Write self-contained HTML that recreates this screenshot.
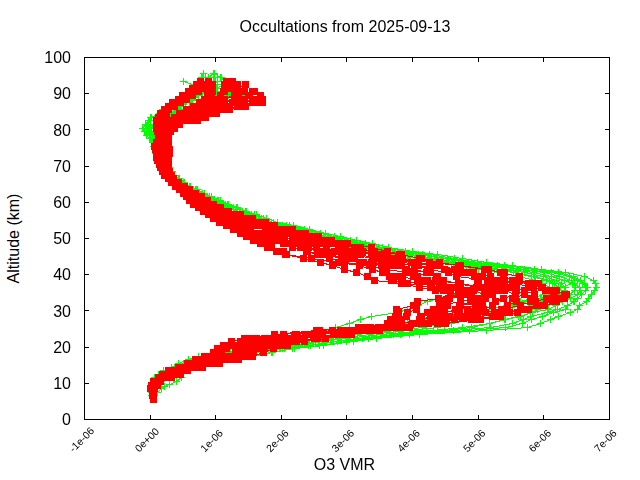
<!DOCTYPE html>
<html><head><meta charset="utf-8"><title>Occultations from 2025-09-13</title>
<style>html,body{margin:0;padding:0;background:#fff;width:640px;height:480px;overflow:hidden}</style></head>
<body>
<svg width="640" height="480" viewBox="0 0 640 480" style="position:absolute;left:0;top:0">
<rect width="640" height="480" fill="#fff"/>
<g shape-rendering="crispEdges" fill="none">
<path stroke="#0f0" stroke-width="1" d="M151.5 395.5 L151.5 392.5 L151.5 388.5 L152.5 385.5 L153.5 381.5 L154.5 377.5 L158.5 374.5 L163.5 370.5 L171.5 367.5 L178.5 363.5 L188.5 359.5 L198.5 356.5 L219.5 352.5 L255.5 348.5 L273.5 345.5 L292.5 341.5 L315.5 338.5 L340.5 334.5 L364.5 330.5 L384.5 327.5 L407.5 323.5 L428.5 319.5 L449.5 316.5 L471.5 312.5 L489.5 309.5 L506.5 305.5 L520.5 301.5 L532.5 298.5 L543.5 294.5 L546.5 290.5 L549.5 287.5 L542.5 283.5 L535.5 280.5 L518.5 276.5 L499.5 272.5 L478.5 269.5 L456.5 265.5 L432.5 262.5 L407.5 258.5 L381.5 254.5 L359.5 251.5 L344.5 247.5 L329.5 243.5 L314.5 240.5 L301.5 236.5 L287.5 233.5 L275.5 229.5 L264.5 225.5 L254.5 222.5 L245.5 218.5 L236.5 214.5 L227.5 211.5 L219.5 207.5 L211.5 204.5 L204.5 200.5 L198.5 196.5 L192.5 193.5 L187.5 189.5 L181.5 186.5 L176.5 182.5 L172.5 178.5 L168.5 175.5 L166.5 171.5 L163.5 167.5 L161.5 164.5 L158.5 160.5 L156.5 157.5 L155.5 153.5 L154.5 149.5 L154.5 146.5 L154.5 142.5 L155.5 138.5 L157.5 135.5 L159.5 131.5 L158.5 128.5 L167.5 124.5 L174.5 120.5 L178.5 117.5 L199.5 113.5 L205.5 109.5 L211.5 106.5 L224.5 102.5 L222.5 99.5 L223.5 95.5 L227.5 91.5 L226.5 88.5 L227.5 84.5 L230.5 81.5M153.5 385.5 L154.5 381.5 L155.5 377.5 L160.5 374.5 L165.5 370.5 L174.5 367.5 L183.5 363.5 L193.5 359.5 L201.5 356.5 L222.5 352.5 L258.5 348.5 L278.5 345.5 L298.5 341.5 L320.5 338.5 L348.5 334.5 L378.5 330.5 L400.5 327.5 L424.5 323.5 L442.5 319.5 L461.5 316.5 L483.5 312.5 L499.5 309.5 L512.5 305.5 L527.5 301.5 L540.5 298.5 L551.5 294.5 L554.5 290.5 L558.5 287.5 L552.5 283.5 L546.5 280.5 L531.5 276.5 L513.5 272.5 L494.5 269.5 L469.5 265.5 L443.5 262.5 L419.5 258.5 L392.5 254.5 L369.5 251.5 L349.5 247.5 L335.5 243.5 L321.5 240.5 L307.5 236.5 L294.5 233.5 L283.5 229.5 L270.5 225.5 L259.5 222.5 L249.5 218.5 L240.5 214.5 L231.5 211.5 L222.5 207.5 L214.5 204.5 L207.5 200.5 L200.5 196.5 L194.5 193.5 L188.5 189.5 L182.5 186.5 L177.5 182.5 L173.5 178.5 L169.5 175.5 L166.5 171.5 L164.5 167.5 L161.5 164.5 L159.5 160.5 L157.5 157.5 L156.5 153.5 L154.5 149.5 L153.5 146.5 L152.5 142.5 L150.5 138.5 L149.5 135.5 L146.5 131.5 L150.5 128.5 L156.5 124.5 L158.5 120.5 L158.5 117.5 L167.5 113.5 L166.5 109.5 L171.5 106.5 L185.5 102.5 L192.5 99.5 L194.5 95.5 L205.5 91.5 L200.5 88.5 L205.5 84.5 L205.5 81.5M152.5 395.5 L152.5 392.5 L153.5 388.5 L153.5 385.5 L155.5 381.5 L157.5 377.5 L163.5 374.5 L168.5 370.5 L176.5 367.5 L186.5 363.5 L197.5 359.5 L208.5 356.5 L230.5 352.5 L264.5 348.5 L284.5 345.5 L306.5 341.5 L330.5 338.5 L357.5 334.5 L395.5 330.5 L422.5 327.5 L440.5 323.5 L454.5 319.5 L470.5 316.5 L487.5 312.5 L506.5 309.5 L519.5 305.5 L531.5 301.5 L541.5 298.5 L553.5 294.5 L557.5 290.5 L558.5 287.5 L554.5 283.5 L549.5 280.5 L534.5 276.5 L515.5 272.5 L491.5 269.5 L466.5 265.5 L442.5 262.5 L417.5 258.5 L392.5 254.5 L370.5 251.5 L354.5 247.5 L339.5 243.5 L323.5 240.5 L307.5 236.5 L293.5 233.5 L280.5 229.5 L268.5 225.5 L257.5 222.5 L248.5 218.5 L238.5 214.5 L230.5 211.5 L221.5 207.5 L214.5 204.5 L207.5 200.5 L200.5 196.5 L194.5 193.5 L188.5 189.5 L183.5 186.5 L178.5 182.5 L174.5 178.5 L170.5 175.5 L167.5 171.5 L165.5 167.5 L163.5 164.5 L160.5 160.5 L158.5 157.5 L157.5 153.5 L156.5 149.5 L155.5 146.5 L154.5 142.5 L153.5 138.5 L153.5 135.5 L155.5 131.5 L156.5 128.5 L167.5 124.5 L175.5 120.5 L186.5 117.5 L191.5 113.5 L203.5 109.5 L211.5 106.5 L216.5 102.5 L223.5 99.5 L228.5 95.5 L230.5 91.5 L230.5 88.5 L225.5 84.5 L221.5 81.5 L220.5 77.5 L214.5 73.5M152.5 395.5 L152.5 392.5 L153.5 388.5 L154.5 385.5 L155.5 381.5 L159.5 377.5 L164.5 374.5 L171.5 370.5 L181.5 367.5 L192.5 363.5 L204.5 359.5 L219.5 356.5 L239.5 352.5 L271.5 348.5 L292.5 345.5 L315.5 341.5 L339.5 338.5 L369.5 334.5 L409.5 330.5 L437.5 327.5 L451.5 323.5 L472.5 319.5 L491.5 316.5 L505.5 312.5 L521.5 309.5 L531.5 305.5 L542.5 301.5 L551.5 298.5 L559.5 294.5 L564.5 290.5 L565.5 287.5 L561.5 283.5 L556.5 280.5 L543.5 276.5 L524.5 272.5 L501.5 269.5 L475.5 265.5 L451.5 262.5 L427.5 258.5 L405.5 254.5 L383.5 251.5 L363.5 247.5 L347.5 243.5 L332.5 240.5 L317.5 236.5 L304.5 233.5 L291.5 229.5 L277.5 225.5 L263.5 222.5 L254.5 218.5 L245.5 214.5 L236.5 211.5 L227.5 207.5 L219.5 204.5 L211.5 200.5 L203.5 196.5 L196.5 193.5 L191.5 189.5 L184.5 186.5 L179.5 182.5 L174.5 178.5 L170.5 175.5 L168.5 171.5 L165.5 167.5 L163.5 164.5 L160.5 160.5 L158.5 157.5 L157.5 153.5 L156.5 149.5 L155.5 146.5 L155.5 142.5 L154.5 138.5 L154.5 135.5 L153.5 131.5 L153.5 128.5 L164.5 124.5 L163.5 120.5 L173.5 117.5 L184.5 113.5 L187.5 109.5 L190.5 106.5 L214.5 102.5 L217.5 99.5 L234.5 95.5 L233.5 91.5 L227.5 88.5 L225.5 84.5 L224.5 81.5 L221.5 77.5M157.5 381.5 L161.5 377.5 L168.5 374.5 L175.5 370.5 L184.5 367.5 L194.5 363.5 L208.5 359.5 L224.5 356.5 L245.5 352.5 L274.5 348.5 L297.5 345.5 L321.5 341.5 L346.5 338.5 L380.5 334.5 L433.5 330.5 L462.5 327.5 L489.5 323.5 L505.5 319.5 L520.5 316.5 L532.5 312.5 L537.5 309.5 L546.5 305.5 L556.5 301.5 L565.5 298.5 L569.5 294.5 L574.5 290.5 L575.5 287.5 L572.5 283.5 L564.5 280.5 L551.5 276.5 L533.5 272.5 L510.5 269.5 L485.5 265.5 L458.5 262.5 L435.5 258.5 L410.5 254.5 L387.5 251.5 L368.5 247.5 L354.5 243.5 L338.5 240.5 L321.5 236.5 L306.5 233.5 L293.5 229.5 L280.5 225.5 L266.5 222.5 L256.5 218.5 L246.5 214.5 L237.5 211.5 L228.5 207.5 L220.5 204.5 L213.5 200.5 L205.5 196.5 L198.5 193.5 L192.5 189.5 L186.5 186.5 L180.5 182.5 L176.5 178.5 L171.5 175.5 L169.5 171.5 L166.5 167.5 L164.5 164.5 L162.5 160.5 L160.5 157.5 L159.5 153.5 L157.5 149.5 L155.5 146.5 L152.5 142.5 L149.5 138.5 L146.5 135.5 L144.5 131.5 L142.5 128.5 L145.5 124.5 L148.5 120.5 L150.5 117.5 L159.5 113.5 L162.5 109.5 L168.5 106.5 L172.5 102.5 L178.5 99.5 L184.5 95.5 L194.5 91.5 L196.5 88.5 L195.5 84.5 L198.5 81.5 L201.5 77.5 L203.5 73.5M153.5 392.5 L154.5 388.5 L156.5 385.5 L158.5 381.5 L163.5 377.5 L169.5 374.5 L176.5 370.5 L186.5 367.5 L198.5 363.5 L212.5 359.5 L232.5 356.5 L254.5 352.5 L282.5 348.5 L308.5 345.5 L333.5 341.5 L357.5 338.5 L393.5 334.5 L444.5 330.5 L471.5 327.5 L489.5 323.5 L504.5 319.5 L518.5 316.5 L532.5 312.5 L548.5 309.5 L555.5 305.5 L562.5 301.5 L570.5 298.5 L577.5 294.5 L580.5 290.5 L579.5 287.5 L574.5 283.5 L571.5 280.5 L559.5 276.5 L544.5 272.5 L518.5 269.5 L492.5 265.5 L466.5 262.5 L443.5 258.5 L418.5 254.5 L395.5 251.5 L373.5 247.5 L356.5 243.5 L339.5 240.5 L324.5 236.5 L308.5 233.5 L296.5 229.5 L282.5 225.5 L268.5 222.5 L258.5 218.5 L248.5 214.5 L239.5 211.5 L230.5 207.5 L222.5 204.5 L214.5 200.5 L206.5 196.5 L199.5 193.5 L193.5 189.5 L186.5 186.5 L181.5 182.5 L176.5 178.5 L171.5 175.5 L169.5 171.5 L167.5 167.5 L164.5 164.5 L162.5 160.5 L160.5 157.5 L159.5 153.5 L157.5 149.5 L156.5 146.5 L154.5 142.5 L152.5 138.5 L149.5 135.5 L151.5 131.5 L149.5 128.5 L155.5 124.5 L160.5 120.5 L161.5 117.5 L170.5 113.5 L184.5 109.5 L192.5 106.5 L205.5 102.5 L208.5 99.5 L213.5 95.5 L214.5 91.5 L216.5 88.5 L223.5 84.5M154.5 392.5 L154.5 388.5 L156.5 385.5 L159.5 381.5 L164.5 377.5 L172.5 374.5 L179.5 370.5 L188.5 367.5 L201.5 363.5 L216.5 359.5 L236.5 356.5 L260.5 352.5 L284.5 348.5 L310.5 345.5 L337.5 341.5 L362.5 338.5 L400.5 334.5 L453.5 330.5 L490.5 327.5 L512.5 323.5 L523.5 319.5 L530.5 316.5 L547.5 312.5 L557.5 309.5 L567.5 305.5 L573.5 301.5 L577.5 298.5 L581.5 294.5 L585.5 290.5 L587.5 287.5 L582.5 283.5 L577.5 280.5 L569.5 276.5 L551.5 272.5 L524.5 269.5 L497.5 265.5 L471.5 262.5 L447.5 258.5 L422.5 254.5 L397.5 251.5 L376.5 247.5 L360.5 243.5 L344.5 240.5 L328.5 236.5 L314.5 233.5 L300.5 229.5 L286.5 225.5 L271.5 222.5 L261.5 218.5 L251.5 214.5 L242.5 211.5 L233.5 207.5 L225.5 204.5 L217.5 200.5 L209.5 196.5 L202.5 193.5 L195.5 189.5 L189.5 186.5 L183.5 182.5 L178.5 178.5 L172.5 175.5 L170.5 171.5 L168.5 167.5 L166.5 164.5 L163.5 160.5 L162.5 157.5 L160.5 153.5 L159.5 149.5 L157.5 146.5 L154.5 142.5 L152.5 138.5 L149.5 135.5 L147.5 131.5 L146.5 128.5 L147.5 124.5 L150.5 120.5 L151.5 117.5 L162.5 113.5 L162.5 109.5 L168.5 106.5 L189.5 102.5 L189.5 99.5 L186.5 95.5 L191.5 91.5 L202.5 88.5 L202.5 84.5 L205.5 81.5 L205.5 77.5M156.5 388.5 L158.5 385.5 L161.5 381.5 L168.5 377.5 L177.5 374.5 L185.5 370.5 L195.5 367.5 L208.5 363.5 L225.5 359.5 L249.5 356.5 L271.5 352.5 L292.5 348.5 L319.5 345.5 L346.5 341.5 L368.5 338.5 L409.5 334.5 L469.5 330.5 L505.5 327.5 L522.5 323.5 L531.5 319.5 L542.5 316.5 L553.5 312.5 L565.5 309.5 L567.5 305.5 L574.5 301.5 L577.5 298.5 L581.5 294.5 L585.5 290.5 L586.5 287.5 L584.5 283.5 L580.5 280.5 L573.5 276.5 L558.5 272.5 L534.5 269.5 L504.5 265.5 L477.5 262.5 L454.5 258.5 L429.5 254.5 L405.5 251.5 L382.5 247.5 L365.5 243.5 L350.5 240.5 L334.5 236.5 L320.5 233.5 L304.5 229.5 L289.5 225.5 L273.5 222.5 L263.5 218.5 L254.5 214.5 L245.5 211.5 L236.5 207.5 L227.5 204.5 L218.5 200.5 L209.5 196.5 L202.5 193.5 L196.5 189.5 L189.5 186.5 L183.5 182.5 L178.5 178.5 L173.5 175.5 L171.5 171.5 L168.5 167.5 L166.5 164.5 L164.5 160.5 L162.5 157.5 L161.5 153.5 L160.5 149.5 L159.5 146.5 L159.5 142.5 L157.5 138.5 L155.5 135.5 L158.5 131.5 L158.5 128.5 L167.5 124.5 L178.5 120.5 L189.5 117.5 L196.5 113.5 L195.5 109.5 L211.5 106.5 L220.5 102.5 L233.5 99.5 L242.5 95.5 L235.5 91.5 L240.5 88.5 L236.5 84.5 L232.5 81.5M155.5 388.5 L157.5 385.5 L161.5 381.5 L168.5 377.5 L177.5 374.5 L185.5 370.5 L195.5 367.5 L208.5 363.5 L228.5 359.5 L252.5 356.5 L272.5 352.5 L294.5 348.5 L323.5 345.5 L353.5 341.5 L376.5 338.5 L419.5 334.5 L486.5 330.5 L527.5 327.5 L540.5 323.5 L550.5 319.5 L558.5 316.5 L570.5 312.5 L577.5 309.5 L579.5 305.5 L586.5 301.5 L588.5 298.5 L591.5 294.5 L594.5 290.5 L596.5 287.5 L595.5 283.5 L593.5 280.5 L584.5 276.5 L565.5 272.5 L541.5 269.5 L512.5 265.5 L486.5 262.5 L462.5 258.5 L437.5 254.5 L412.5 251.5 L388.5 247.5 L372.5 243.5 L356.5 240.5 L340.5 236.5 L325.5 233.5 L309.5 229.5 L293.5 225.5 L277.5 222.5 L266.5 218.5 L256.5 214.5 L246.5 211.5 L237.5 207.5 L228.5 204.5 L220.5 200.5 L211.5 196.5 L204.5 193.5 L197.5 189.5 L190.5 186.5 L184.5 182.5 L179.5 178.5 L174.5 175.5 L172.5 171.5 L169.5 167.5 L167.5 164.5 L165.5 160.5 L163.5 157.5 L162.5 153.5 L160.5 149.5 L158.5 146.5 L157.5 142.5 L155.5 138.5 L152.5 135.5 L150.5 131.5 L148.5 128.5 L153.5 124.5 L162.5 120.5 L162.5 117.5 L174.5 113.5 L175.5 109.5 L180.5 106.5 L179.5 102.5 L203.5 99.5 L207.5 95.5 L211.5 91.5 L207.5 88.5 L213.5 84.5 L206.5 81.5 L208.5 77.5 L213.5 73.5M153.5 392.5 L153.5 388.5 L155.5 385.5 L157.5 381.5 L161.5 377.5 L167.5 374.5 L174.5 370.5 L183.5 367.5 L194.5 363.5 L207.5 359.5 L224.5 356.5 L245.5 352.5 L275.5 348.5 L299.5 345.5 L322.5 341.5 L346.5 338.5 L380.5 334.5 L426.5 330.5 L335.5 327.5 L349.5 323.5 L360.5 319.5 L371.5 316.5 L397.5 312.5 L407.5 309.5 L418.5 305.5 L427.5 301.5 L438.5 298.5 L450.5 294.5 L500.5 290.5 L560.5 287.5 L572.5 283.5 L564.5 280.5 L551.5 276.5 L533.5 272.5 L510.5 269.5 L484.5 265.5 L459.5 262.5 L434.5 258.5 L409.5 254.5 L386.5 251.5 L366.5 247.5 L350.5 243.5 L335.5 240.5 L320.5 236.5 L306.5 233.5 L292.5 229.5 L279.5 225.5 L265.5 222.5 L255.5 218.5 L246.5 214.5 L237.5 211.5 L228.5 207.5 L220.5 204.5 L212.5 200.5 L204.5 196.5 L198.5 193.5 L192.5 189.5 L186.5 186.5 L180.5 182.5 L176.5 178.5 L171.5 175.5 L169.5 171.5 L166.5 167.5 L164.5 164.5 L162.5 160.5 L160.5 157.5 L158.5 153.5 L157.5 149.5 L156.5 146.5 L154.5 142.5 L153.5 138.5 L152.5 135.5 L151.5 131.5 L151.5 128.5 L156.5 124.5 L163.5 120.5 L170.5 117.5 L178.5 113.5 L186.5 109.5 L194.5 106.5 L202.5 102.5 L208.5 99.5 L213.5 95.5 L216.5 91.5 L216.5 88.5 L215.5 84.5 L215.5 81.5 L213.5 77.5M169.5 117.5 L171.5 113.5 L174.5 109.5 L179.5 106.5 L185.5 102.5 L191.5 99.5 L198.5 95.5 L204.5 91.5 L207.5 88.5 L211.5 84.5 L214.5 81.5M171.5 115.5 L174.5 111.5 L178.5 108.5 L183.5 104.5 L189.5 100.5 L195.5 97.5 L202.5 93.5 L206.5 90.5 L210.5 86.5 L214.5 82.5M212.5 99.5 L216.5 95.5 L216.5 91.5 L217.5 88.5 L217.5 84.5 L217.5 81.5 L217.5 77.5M183.5 81.5 L197.5 86.5 L201.5 92.5M157.5 392.5 L161.5 388.5 L164.5 386.5 L169.5 384.5 L176.5 381.5 L181.5 377.5"/>
<path stroke="#0f0" stroke-width="1" d="M148 395.5h7M151.5 392v7M148 392.5h7M151.5 389v7M148 388.5h7M151.5 385v7M149 385.5h7M152.5 382v7M150 381.5h7M153.5 378v7M151 377.5h7M154.5 374v7M155 374.5h7M158.5 371v7M160 370.5h7M163.5 367v7M168 367.5h7M171.5 364v7M175 363.5h7M178.5 360v7M185 359.5h7M188.5 356v7M195 356.5h7M198.5 353v7M216 352.5h7M219.5 349v7M252 348.5h7M255.5 345v7M270 345.5h7M273.5 342v7M289 341.5h7M292.5 338v7M312 338.5h7M315.5 335v7M337 334.5h7M340.5 331v7M361 330.5h7M364.5 327v7M381 327.5h7M384.5 324v7M404 323.5h7M407.5 320v7M425 319.5h7M428.5 316v7M446 316.5h7M449.5 313v7M468 312.5h7M471.5 309v7M486 309.5h7M489.5 306v7M503 305.5h7M506.5 302v7M517 301.5h7M520.5 298v7M529 298.5h7M532.5 295v7M540 294.5h7M543.5 291v7M543 290.5h7M546.5 287v7M546 287.5h7M549.5 284v7M539 283.5h7M542.5 280v7M532 280.5h7M535.5 277v7M515 276.5h7M518.5 273v7M496 272.5h7M499.5 269v7M475 269.5h7M478.5 266v7M453 265.5h7M456.5 262v7M429 262.5h7M432.5 259v7M404 258.5h7M407.5 255v7M378 254.5h7M381.5 251v7M356 251.5h7M359.5 248v7M341 247.5h7M344.5 244v7M326 243.5h7M329.5 240v7M311 240.5h7M314.5 237v7M298 236.5h7M301.5 233v7M284 233.5h7M287.5 230v7M272 229.5h7M275.5 226v7M261 225.5h7M264.5 222v7M251 222.5h7M254.5 219v7M242 218.5h7M245.5 215v7M233 214.5h7M236.5 211v7M224 211.5h7M227.5 208v7M216 207.5h7M219.5 204v7M208 204.5h7M211.5 201v7M201 200.5h7M204.5 197v7M195 196.5h7M198.5 193v7M189 193.5h7M192.5 190v7M184 189.5h7M187.5 186v7M178 186.5h7M181.5 183v7M173 182.5h7M176.5 179v7M169 178.5h7M172.5 175v7M165 175.5h7M168.5 172v7M163 171.5h7M166.5 168v7M160 167.5h7M163.5 164v7M158 164.5h7M161.5 161v7M155 160.5h7M158.5 157v7M153 157.5h7M156.5 154v7M152 153.5h7M155.5 150v7M151 149.5h7M154.5 146v7M151 146.5h7M154.5 143v7M151 142.5h7M154.5 139v7M152 138.5h7M155.5 135v7M154 135.5h7M157.5 132v7M156 131.5h7M159.5 128v7M155 128.5h7M158.5 125v7M164 124.5h7M167.5 121v7M171 120.5h7M174.5 117v7M175 117.5h7M178.5 114v7M196 113.5h7M199.5 110v7M202 109.5h7M205.5 106v7M208 106.5h7M211.5 103v7M221 102.5h7M224.5 99v7M219 99.5h7M222.5 96v7M220 95.5h7M223.5 92v7M224 91.5h7M227.5 88v7M223 88.5h7M226.5 85v7M224 84.5h7M227.5 81v7M227 81.5h7M230.5 78v7M150 385.5h7M153.5 382v7M151 381.5h7M154.5 378v7M152 377.5h7M155.5 374v7M157 374.5h7M160.5 371v7M162 370.5h7M165.5 367v7M171 367.5h7M174.5 364v7M180 363.5h7M183.5 360v7M190 359.5h7M193.5 356v7M198 356.5h7M201.5 353v7M219 352.5h7M222.5 349v7M255 348.5h7M258.5 345v7M275 345.5h7M278.5 342v7M295 341.5h7M298.5 338v7M317 338.5h7M320.5 335v7M345 334.5h7M348.5 331v7M375 330.5h7M378.5 327v7M397 327.5h7M400.5 324v7M421 323.5h7M424.5 320v7M439 319.5h7M442.5 316v7M458 316.5h7M461.5 313v7M480 312.5h7M483.5 309v7M496 309.5h7M499.5 306v7M509 305.5h7M512.5 302v7M524 301.5h7M527.5 298v7M537 298.5h7M540.5 295v7M548 294.5h7M551.5 291v7M551 290.5h7M554.5 287v7M555 287.5h7M558.5 284v7M549 283.5h7M552.5 280v7M543 280.5h7M546.5 277v7M528 276.5h7M531.5 273v7M510 272.5h7M513.5 269v7M491 269.5h7M494.5 266v7M466 265.5h7M469.5 262v7M440 262.5h7M443.5 259v7M416 258.5h7M419.5 255v7M389 254.5h7M392.5 251v7M366 251.5h7M369.5 248v7M346 247.5h7M349.5 244v7M332 243.5h7M335.5 240v7M318 240.5h7M321.5 237v7M304 236.5h7M307.5 233v7M291 233.5h7M294.5 230v7M280 229.5h7M283.5 226v7M267 225.5h7M270.5 222v7M256 222.5h7M259.5 219v7M246 218.5h7M249.5 215v7M237 214.5h7M240.5 211v7M228 211.5h7M231.5 208v7M219 207.5h7M222.5 204v7M211 204.5h7M214.5 201v7M204 200.5h7M207.5 197v7M197 196.5h7M200.5 193v7M191 193.5h7M194.5 190v7M185 189.5h7M188.5 186v7M179 186.5h7M182.5 183v7M174 182.5h7M177.5 179v7M170 178.5h7M173.5 175v7M166 175.5h7M169.5 172v7M163 171.5h7M166.5 168v7M161 167.5h7M164.5 164v7M158 164.5h7M161.5 161v7M156 160.5h7M159.5 157v7M154 157.5h7M157.5 154v7M153 153.5h7M156.5 150v7M151 149.5h7M154.5 146v7M150 146.5h7M153.5 143v7M149 142.5h7M152.5 139v7M147 138.5h7M150.5 135v7M146 135.5h7M149.5 132v7M143 131.5h7M146.5 128v7M147 128.5h7M150.5 125v7M153 124.5h7M156.5 121v7M155 120.5h7M158.5 117v7M155 117.5h7M158.5 114v7M164 113.5h7M167.5 110v7M163 109.5h7M166.5 106v7M168 106.5h7M171.5 103v7M182 102.5h7M185.5 99v7M189 99.5h7M192.5 96v7M191 95.5h7M194.5 92v7M202 91.5h7M205.5 88v7M197 88.5h7M200.5 85v7M202 84.5h7M205.5 81v7M202 81.5h7M205.5 78v7M149 395.5h7M152.5 392v7M149 392.5h7M152.5 389v7M150 388.5h7M153.5 385v7M150 385.5h7M153.5 382v7M152 381.5h7M155.5 378v7M154 377.5h7M157.5 374v7M160 374.5h7M163.5 371v7M165 370.5h7M168.5 367v7M173 367.5h7M176.5 364v7M183 363.5h7M186.5 360v7M194 359.5h7M197.5 356v7M205 356.5h7M208.5 353v7M227 352.5h7M230.5 349v7M261 348.5h7M264.5 345v7M281 345.5h7M284.5 342v7M303 341.5h7M306.5 338v7M327 338.5h7M330.5 335v7M354 334.5h7M357.5 331v7M392 330.5h7M395.5 327v7M419 327.5h7M422.5 324v7M437 323.5h7M440.5 320v7M451 319.5h7M454.5 316v7M467 316.5h7M470.5 313v7M484 312.5h7M487.5 309v7M503 309.5h7M506.5 306v7M516 305.5h7M519.5 302v7M528 301.5h7M531.5 298v7M538 298.5h7M541.5 295v7M550 294.5h7M553.5 291v7M554 290.5h7M557.5 287v7M555 287.5h7M558.5 284v7M551 283.5h7M554.5 280v7M546 280.5h7M549.5 277v7M531 276.5h7M534.5 273v7M512 272.5h7M515.5 269v7M488 269.5h7M491.5 266v7M463 265.5h7M466.5 262v7M439 262.5h7M442.5 259v7M414 258.5h7M417.5 255v7M389 254.5h7M392.5 251v7M367 251.5h7M370.5 248v7M351 247.5h7M354.5 244v7M336 243.5h7M339.5 240v7M320 240.5h7M323.5 237v7M304 236.5h7M307.5 233v7M290 233.5h7M293.5 230v7M277 229.5h7M280.5 226v7M265 225.5h7M268.5 222v7M254 222.5h7M257.5 219v7M245 218.5h7M248.5 215v7M235 214.5h7M238.5 211v7M227 211.5h7M230.5 208v7M218 207.5h7M221.5 204v7M211 204.5h7M214.5 201v7M204 200.5h7M207.5 197v7M197 196.5h7M200.5 193v7M191 193.5h7M194.5 190v7M185 189.5h7M188.5 186v7M180 186.5h7M183.5 183v7M175 182.5h7M178.5 179v7M171 178.5h7M174.5 175v7M167 175.5h7M170.5 172v7M164 171.5h7M167.5 168v7M162 167.5h7M165.5 164v7M160 164.5h7M163.5 161v7M157 160.5h7M160.5 157v7M155 157.5h7M158.5 154v7M154 153.5h7M157.5 150v7M153 149.5h7M156.5 146v7M152 146.5h7M155.5 143v7M151 142.5h7M154.5 139v7M150 138.5h7M153.5 135v7M150 135.5h7M153.5 132v7M152 131.5h7M155.5 128v7M153 128.5h7M156.5 125v7M164 124.5h7M167.5 121v7M172 120.5h7M175.5 117v7M183 117.5h7M186.5 114v7M188 113.5h7M191.5 110v7M200 109.5h7M203.5 106v7M208 106.5h7M211.5 103v7M213 102.5h7M216.5 99v7M220 99.5h7M223.5 96v7M225 95.5h7M228.5 92v7M227 91.5h7M230.5 88v7M227 88.5h7M230.5 85v7M222 84.5h7M225.5 81v7M218 81.5h7M221.5 78v7M217 77.5h7M220.5 74v7M211 73.5h7M214.5 70v7M149 395.5h7M152.5 392v7M149 392.5h7M152.5 389v7M150 388.5h7M153.5 385v7M151 385.5h7M154.5 382v7M152 381.5h7M155.5 378v7M156 377.5h7M159.5 374v7M161 374.5h7M164.5 371v7M168 370.5h7M171.5 367v7M178 367.5h7M181.5 364v7M189 363.5h7M192.5 360v7M201 359.5h7M204.5 356v7M216 356.5h7M219.5 353v7M236 352.5h7M239.5 349v7M268 348.5h7M271.5 345v7M289 345.5h7M292.5 342v7M312 341.5h7M315.5 338v7M336 338.5h7M339.5 335v7M366 334.5h7M369.5 331v7M406 330.5h7M409.5 327v7M434 327.5h7M437.5 324v7M448 323.5h7M451.5 320v7M469 319.5h7M472.5 316v7M488 316.5h7M491.5 313v7M502 312.5h7M505.5 309v7M518 309.5h7M521.5 306v7M528 305.5h7M531.5 302v7M539 301.5h7M542.5 298v7M548 298.5h7M551.5 295v7M556 294.5h7M559.5 291v7M561 290.5h7M564.5 287v7M562 287.5h7M565.5 284v7M558 283.5h7M561.5 280v7M553 280.5h7M556.5 277v7M540 276.5h7M543.5 273v7M521 272.5h7M524.5 269v7M498 269.5h7M501.5 266v7M472 265.5h7M475.5 262v7M448 262.5h7M451.5 259v7M424 258.5h7M427.5 255v7M402 254.5h7M405.5 251v7M380 251.5h7M383.5 248v7M360 247.5h7M363.5 244v7M344 243.5h7M347.5 240v7M329 240.5h7M332.5 237v7M314 236.5h7M317.5 233v7M301 233.5h7M304.5 230v7M288 229.5h7M291.5 226v7M274 225.5h7M277.5 222v7M260 222.5h7M263.5 219v7M251 218.5h7M254.5 215v7M242 214.5h7M245.5 211v7M233 211.5h7M236.5 208v7M224 207.5h7M227.5 204v7M216 204.5h7M219.5 201v7M208 200.5h7M211.5 197v7M200 196.5h7M203.5 193v7M193 193.5h7M196.5 190v7M188 189.5h7M191.5 186v7M181 186.5h7M184.5 183v7M176 182.5h7M179.5 179v7M171 178.5h7M174.5 175v7M167 175.5h7M170.5 172v7M165 171.5h7M168.5 168v7M162 167.5h7M165.5 164v7M160 164.5h7M163.5 161v7M157 160.5h7M160.5 157v7M155 157.5h7M158.5 154v7M154 153.5h7M157.5 150v7M153 149.5h7M156.5 146v7M152 146.5h7M155.5 143v7M152 142.5h7M155.5 139v7M151 138.5h7M154.5 135v7M151 135.5h7M154.5 132v7M150 131.5h7M153.5 128v7M150 128.5h7M153.5 125v7M161 124.5h7M164.5 121v7M160 120.5h7M163.5 117v7M170 117.5h7M173.5 114v7M181 113.5h7M184.5 110v7M184 109.5h7M187.5 106v7M187 106.5h7M190.5 103v7M211 102.5h7M214.5 99v7M214 99.5h7M217.5 96v7M231 95.5h7M234.5 92v7M230 91.5h7M233.5 88v7M224 88.5h7M227.5 85v7M222 84.5h7M225.5 81v7M221 81.5h7M224.5 78v7M218 77.5h7M221.5 74v7M154 381.5h7M157.5 378v7M158 377.5h7M161.5 374v7M165 374.5h7M168.5 371v7M172 370.5h7M175.5 367v7M181 367.5h7M184.5 364v7M191 363.5h7M194.5 360v7M205 359.5h7M208.5 356v7M221 356.5h7M224.5 353v7M242 352.5h7M245.5 349v7M271 348.5h7M274.5 345v7M294 345.5h7M297.5 342v7M318 341.5h7M321.5 338v7M343 338.5h7M346.5 335v7M377 334.5h7M380.5 331v7M430 330.5h7M433.5 327v7M459 327.5h7M462.5 324v7M486 323.5h7M489.5 320v7M502 319.5h7M505.5 316v7M517 316.5h7M520.5 313v7M529 312.5h7M532.5 309v7M534 309.5h7M537.5 306v7M543 305.5h7M546.5 302v7M553 301.5h7M556.5 298v7M562 298.5h7M565.5 295v7M566 294.5h7M569.5 291v7M571 290.5h7M574.5 287v7M572 287.5h7M575.5 284v7M569 283.5h7M572.5 280v7M561 280.5h7M564.5 277v7M548 276.5h7M551.5 273v7M530 272.5h7M533.5 269v7M507 269.5h7M510.5 266v7M482 265.5h7M485.5 262v7M455 262.5h7M458.5 259v7M432 258.5h7M435.5 255v7M407 254.5h7M410.5 251v7M384 251.5h7M387.5 248v7M365 247.5h7M368.5 244v7M351 243.5h7M354.5 240v7M335 240.5h7M338.5 237v7M318 236.5h7M321.5 233v7M303 233.5h7M306.5 230v7M290 229.5h7M293.5 226v7M277 225.5h7M280.5 222v7M263 222.5h7M266.5 219v7M253 218.5h7M256.5 215v7M243 214.5h7M246.5 211v7M234 211.5h7M237.5 208v7M225 207.5h7M228.5 204v7M217 204.5h7M220.5 201v7M210 200.5h7M213.5 197v7M202 196.5h7M205.5 193v7M195 193.5h7M198.5 190v7M189 189.5h7M192.5 186v7M183 186.5h7M186.5 183v7M177 182.5h7M180.5 179v7M173 178.5h7M176.5 175v7M168 175.5h7M171.5 172v7M166 171.5h7M169.5 168v7M163 167.5h7M166.5 164v7M161 164.5h7M164.5 161v7M159 160.5h7M162.5 157v7M157 157.5h7M160.5 154v7M156 153.5h7M159.5 150v7M154 149.5h7M157.5 146v7M152 146.5h7M155.5 143v7M149 142.5h7M152.5 139v7M146 138.5h7M149.5 135v7M143 135.5h7M146.5 132v7M141 131.5h7M144.5 128v7M139 128.5h7M142.5 125v7M142 124.5h7M145.5 121v7M145 120.5h7M148.5 117v7M147 117.5h7M150.5 114v7M156 113.5h7M159.5 110v7M159 109.5h7M162.5 106v7M165 106.5h7M168.5 103v7M169 102.5h7M172.5 99v7M175 99.5h7M178.5 96v7M181 95.5h7M184.5 92v7M191 91.5h7M194.5 88v7M193 88.5h7M196.5 85v7M192 84.5h7M195.5 81v7M195 81.5h7M198.5 78v7M198 77.5h7M201.5 74v7M200 73.5h7M203.5 70v7M150 392.5h7M153.5 389v7M151 388.5h7M154.5 385v7M153 385.5h7M156.5 382v7M155 381.5h7M158.5 378v7M160 377.5h7M163.5 374v7M166 374.5h7M169.5 371v7M173 370.5h7M176.5 367v7M183 367.5h7M186.5 364v7M195 363.5h7M198.5 360v7M209 359.5h7M212.5 356v7M229 356.5h7M232.5 353v7M251 352.5h7M254.5 349v7M279 348.5h7M282.5 345v7M305 345.5h7M308.5 342v7M330 341.5h7M333.5 338v7M354 338.5h7M357.5 335v7M390 334.5h7M393.5 331v7M441 330.5h7M444.5 327v7M468 327.5h7M471.5 324v7M486 323.5h7M489.5 320v7M501 319.5h7M504.5 316v7M515 316.5h7M518.5 313v7M529 312.5h7M532.5 309v7M545 309.5h7M548.5 306v7M552 305.5h7M555.5 302v7M559 301.5h7M562.5 298v7M567 298.5h7M570.5 295v7M574 294.5h7M577.5 291v7M577 290.5h7M580.5 287v7M576 287.5h7M579.5 284v7M571 283.5h7M574.5 280v7M568 280.5h7M571.5 277v7M556 276.5h7M559.5 273v7M541 272.5h7M544.5 269v7M515 269.5h7M518.5 266v7M489 265.5h7M492.5 262v7M463 262.5h7M466.5 259v7M440 258.5h7M443.5 255v7M415 254.5h7M418.5 251v7M392 251.5h7M395.5 248v7M370 247.5h7M373.5 244v7M353 243.5h7M356.5 240v7M336 240.5h7M339.5 237v7M321 236.5h7M324.5 233v7M305 233.5h7M308.5 230v7M293 229.5h7M296.5 226v7M279 225.5h7M282.5 222v7M265 222.5h7M268.5 219v7M255 218.5h7M258.5 215v7M245 214.5h7M248.5 211v7M236 211.5h7M239.5 208v7M227 207.5h7M230.5 204v7M219 204.5h7M222.5 201v7M211 200.5h7M214.5 197v7M203 196.5h7M206.5 193v7M196 193.5h7M199.5 190v7M190 189.5h7M193.5 186v7M183 186.5h7M186.5 183v7M178 182.5h7M181.5 179v7M173 178.5h7M176.5 175v7M168 175.5h7M171.5 172v7M166 171.5h7M169.5 168v7M164 167.5h7M167.5 164v7M161 164.5h7M164.5 161v7M159 160.5h7M162.5 157v7M157 157.5h7M160.5 154v7M156 153.5h7M159.5 150v7M154 149.5h7M157.5 146v7M153 146.5h7M156.5 143v7M151 142.5h7M154.5 139v7M149 138.5h7M152.5 135v7M146 135.5h7M149.5 132v7M148 131.5h7M151.5 128v7M146 128.5h7M149.5 125v7M152 124.5h7M155.5 121v7M157 120.5h7M160.5 117v7M158 117.5h7M161.5 114v7M167 113.5h7M170.5 110v7M181 109.5h7M184.5 106v7M189 106.5h7M192.5 103v7M202 102.5h7M205.5 99v7M205 99.5h7M208.5 96v7M210 95.5h7M213.5 92v7M211 91.5h7M214.5 88v7M213 88.5h7M216.5 85v7M220 84.5h7M223.5 81v7M151 392.5h7M154.5 389v7M151 388.5h7M154.5 385v7M153 385.5h7M156.5 382v7M156 381.5h7M159.5 378v7M161 377.5h7M164.5 374v7M169 374.5h7M172.5 371v7M176 370.5h7M179.5 367v7M185 367.5h7M188.5 364v7M198 363.5h7M201.5 360v7M213 359.5h7M216.5 356v7M233 356.5h7M236.5 353v7M257 352.5h7M260.5 349v7M281 348.5h7M284.5 345v7M307 345.5h7M310.5 342v7M334 341.5h7M337.5 338v7M359 338.5h7M362.5 335v7M397 334.5h7M400.5 331v7M450 330.5h7M453.5 327v7M487 327.5h7M490.5 324v7M509 323.5h7M512.5 320v7M520 319.5h7M523.5 316v7M527 316.5h7M530.5 313v7M544 312.5h7M547.5 309v7M554 309.5h7M557.5 306v7M564 305.5h7M567.5 302v7M570 301.5h7M573.5 298v7M574 298.5h7M577.5 295v7M578 294.5h7M581.5 291v7M582 290.5h7M585.5 287v7M584 287.5h7M587.5 284v7M579 283.5h7M582.5 280v7M574 280.5h7M577.5 277v7M566 276.5h7M569.5 273v7M548 272.5h7M551.5 269v7M521 269.5h7M524.5 266v7M494 265.5h7M497.5 262v7M468 262.5h7M471.5 259v7M444 258.5h7M447.5 255v7M419 254.5h7M422.5 251v7M394 251.5h7M397.5 248v7M373 247.5h7M376.5 244v7M357 243.5h7M360.5 240v7M341 240.5h7M344.5 237v7M325 236.5h7M328.5 233v7M311 233.5h7M314.5 230v7M297 229.5h7M300.5 226v7M283 225.5h7M286.5 222v7M268 222.5h7M271.5 219v7M258 218.5h7M261.5 215v7M248 214.5h7M251.5 211v7M239 211.5h7M242.5 208v7M230 207.5h7M233.5 204v7M222 204.5h7M225.5 201v7M214 200.5h7M217.5 197v7M206 196.5h7M209.5 193v7M199 193.5h7M202.5 190v7M192 189.5h7M195.5 186v7M186 186.5h7M189.5 183v7M180 182.5h7M183.5 179v7M175 178.5h7M178.5 175v7M169 175.5h7M172.5 172v7M167 171.5h7M170.5 168v7M165 167.5h7M168.5 164v7M163 164.5h7M166.5 161v7M160 160.5h7M163.5 157v7M159 157.5h7M162.5 154v7M157 153.5h7M160.5 150v7M156 149.5h7M159.5 146v7M154 146.5h7M157.5 143v7M151 142.5h7M154.5 139v7M149 138.5h7M152.5 135v7M146 135.5h7M149.5 132v7M144 131.5h7M147.5 128v7M143 128.5h7M146.5 125v7M144 124.5h7M147.5 121v7M147 120.5h7M150.5 117v7M148 117.5h7M151.5 114v7M159 113.5h7M162.5 110v7M159 109.5h7M162.5 106v7M165 106.5h7M168.5 103v7M186 102.5h7M189.5 99v7M186 99.5h7M189.5 96v7M183 95.5h7M186.5 92v7M188 91.5h7M191.5 88v7M199 88.5h7M202.5 85v7M199 84.5h7M202.5 81v7M202 81.5h7M205.5 78v7M202 77.5h7M205.5 74v7M153 388.5h7M156.5 385v7M155 385.5h7M158.5 382v7M158 381.5h7M161.5 378v7M165 377.5h7M168.5 374v7M174 374.5h7M177.5 371v7M182 370.5h7M185.5 367v7M192 367.5h7M195.5 364v7M205 363.5h7M208.5 360v7M222 359.5h7M225.5 356v7M246 356.5h7M249.5 353v7M268 352.5h7M271.5 349v7M289 348.5h7M292.5 345v7M316 345.5h7M319.5 342v7M343 341.5h7M346.5 338v7M365 338.5h7M368.5 335v7M406 334.5h7M409.5 331v7M466 330.5h7M469.5 327v7M502 327.5h7M505.5 324v7M519 323.5h7M522.5 320v7M528 319.5h7M531.5 316v7M539 316.5h7M542.5 313v7M550 312.5h7M553.5 309v7M562 309.5h7M565.5 306v7M564 305.5h7M567.5 302v7M571 301.5h7M574.5 298v7M574 298.5h7M577.5 295v7M578 294.5h7M581.5 291v7M582 290.5h7M585.5 287v7M583 287.5h7M586.5 284v7M581 283.5h7M584.5 280v7M577 280.5h7M580.5 277v7M570 276.5h7M573.5 273v7M555 272.5h7M558.5 269v7M531 269.5h7M534.5 266v7M501 265.5h7M504.5 262v7M474 262.5h7M477.5 259v7M451 258.5h7M454.5 255v7M426 254.5h7M429.5 251v7M402 251.5h7M405.5 248v7M379 247.5h7M382.5 244v7M362 243.5h7M365.5 240v7M347 240.5h7M350.5 237v7M331 236.5h7M334.5 233v7M317 233.5h7M320.5 230v7M301 229.5h7M304.5 226v7M286 225.5h7M289.5 222v7M270 222.5h7M273.5 219v7M260 218.5h7M263.5 215v7M251 214.5h7M254.5 211v7M242 211.5h7M245.5 208v7M233 207.5h7M236.5 204v7M224 204.5h7M227.5 201v7M215 200.5h7M218.5 197v7M206 196.5h7M209.5 193v7M199 193.5h7M202.5 190v7M193 189.5h7M196.5 186v7M186 186.5h7M189.5 183v7M180 182.5h7M183.5 179v7M175 178.5h7M178.5 175v7M170 175.5h7M173.5 172v7M168 171.5h7M171.5 168v7M165 167.5h7M168.5 164v7M163 164.5h7M166.5 161v7M161 160.5h7M164.5 157v7M159 157.5h7M162.5 154v7M158 153.5h7M161.5 150v7M157 149.5h7M160.5 146v7M156 146.5h7M159.5 143v7M156 142.5h7M159.5 139v7M154 138.5h7M157.5 135v7M152 135.5h7M155.5 132v7M155 131.5h7M158.5 128v7M155 128.5h7M158.5 125v7M164 124.5h7M167.5 121v7M175 120.5h7M178.5 117v7M186 117.5h7M189.5 114v7M193 113.5h7M196.5 110v7M192 109.5h7M195.5 106v7M208 106.5h7M211.5 103v7M217 102.5h7M220.5 99v7M230 99.5h7M233.5 96v7M239 95.5h7M242.5 92v7M232 91.5h7M235.5 88v7M237 88.5h7M240.5 85v7M233 84.5h7M236.5 81v7M229 81.5h7M232.5 78v7M152 388.5h7M155.5 385v7M154 385.5h7M157.5 382v7M158 381.5h7M161.5 378v7M165 377.5h7M168.5 374v7M174 374.5h7M177.5 371v7M182 370.5h7M185.5 367v7M192 367.5h7M195.5 364v7M205 363.5h7M208.5 360v7M225 359.5h7M228.5 356v7M249 356.5h7M252.5 353v7M269 352.5h7M272.5 349v7M291 348.5h7M294.5 345v7M320 345.5h7M323.5 342v7M350 341.5h7M353.5 338v7M373 338.5h7M376.5 335v7M416 334.5h7M419.5 331v7M483 330.5h7M486.5 327v7M524 327.5h7M527.5 324v7M537 323.5h7M540.5 320v7M547 319.5h7M550.5 316v7M555 316.5h7M558.5 313v7M567 312.5h7M570.5 309v7M574 309.5h7M577.5 306v7M576 305.5h7M579.5 302v7M583 301.5h7M586.5 298v7M585 298.5h7M588.5 295v7M588 294.5h7M591.5 291v7M591 290.5h7M594.5 287v7M593 287.5h7M596.5 284v7M592 283.5h7M595.5 280v7M590 280.5h7M593.5 277v7M581 276.5h7M584.5 273v7M562 272.5h7M565.5 269v7M538 269.5h7M541.5 266v7M509 265.5h7M512.5 262v7M483 262.5h7M486.5 259v7M459 258.5h7M462.5 255v7M434 254.5h7M437.5 251v7M409 251.5h7M412.5 248v7M385 247.5h7M388.5 244v7M369 243.5h7M372.5 240v7M353 240.5h7M356.5 237v7M337 236.5h7M340.5 233v7M322 233.5h7M325.5 230v7M306 229.5h7M309.5 226v7M290 225.5h7M293.5 222v7M274 222.5h7M277.5 219v7M263 218.5h7M266.5 215v7M253 214.5h7M256.5 211v7M243 211.5h7M246.5 208v7M234 207.5h7M237.5 204v7M225 204.5h7M228.5 201v7M217 200.5h7M220.5 197v7M208 196.5h7M211.5 193v7M201 193.5h7M204.5 190v7M194 189.5h7M197.5 186v7M187 186.5h7M190.5 183v7M181 182.5h7M184.5 179v7M176 178.5h7M179.5 175v7M171 175.5h7M174.5 172v7M169 171.5h7M172.5 168v7M166 167.5h7M169.5 164v7M164 164.5h7M167.5 161v7M162 160.5h7M165.5 157v7M160 157.5h7M163.5 154v7M159 153.5h7M162.5 150v7M157 149.5h7M160.5 146v7M155 146.5h7M158.5 143v7M154 142.5h7M157.5 139v7M152 138.5h7M155.5 135v7M149 135.5h7M152.5 132v7M147 131.5h7M150.5 128v7M145 128.5h7M148.5 125v7M150 124.5h7M153.5 121v7M159 120.5h7M162.5 117v7M159 117.5h7M162.5 114v7M171 113.5h7M174.5 110v7M172 109.5h7M175.5 106v7M177 106.5h7M180.5 103v7M176 102.5h7M179.5 99v7M200 99.5h7M203.5 96v7M204 95.5h7M207.5 92v7M208 91.5h7M211.5 88v7M204 88.5h7M207.5 85v7M210 84.5h7M213.5 81v7M203 81.5h7M206.5 78v7M205 77.5h7M208.5 74v7M210 73.5h7M213.5 70v7M150 392.5h7M153.5 389v7M150 388.5h7M153.5 385v7M152 385.5h7M155.5 382v7M154 381.5h7M157.5 378v7M158 377.5h7M161.5 374v7M164 374.5h7M167.5 371v7M171 370.5h7M174.5 367v7M180 367.5h7M183.5 364v7M191 363.5h7M194.5 360v7M204 359.5h7M207.5 356v7M221 356.5h7M224.5 353v7M242 352.5h7M245.5 349v7M272 348.5h7M275.5 345v7M296 345.5h7M299.5 342v7M319 341.5h7M322.5 338v7M343 338.5h7M346.5 335v7M377 334.5h7M380.5 331v7M423 330.5h7M426.5 327v7M332 327.5h7M335.5 324v7M346 323.5h7M349.5 320v7M357 319.5h7M360.5 316v7M368 316.5h7M371.5 313v7M394 312.5h7M397.5 309v7M404 309.5h7M407.5 306v7M415 305.5h7M418.5 302v7M424 301.5h7M427.5 298v7M435 298.5h7M438.5 295v7M447 294.5h7M450.5 291v7M497 290.5h7M500.5 287v7M557 287.5h7M560.5 284v7M569 283.5h7M572.5 280v7M561 280.5h7M564.5 277v7M548 276.5h7M551.5 273v7M530 272.5h7M533.5 269v7M507 269.5h7M510.5 266v7M481 265.5h7M484.5 262v7M456 262.5h7M459.5 259v7M431 258.5h7M434.5 255v7M406 254.5h7M409.5 251v7M383 251.5h7M386.5 248v7M363 247.5h7M366.5 244v7M347 243.5h7M350.5 240v7M332 240.5h7M335.5 237v7M317 236.5h7M320.5 233v7M303 233.5h7M306.5 230v7M289 229.5h7M292.5 226v7M276 225.5h7M279.5 222v7M262 222.5h7M265.5 219v7M252 218.5h7M255.5 215v7M243 214.5h7M246.5 211v7M234 211.5h7M237.5 208v7M225 207.5h7M228.5 204v7M217 204.5h7M220.5 201v7M209 200.5h7M212.5 197v7M201 196.5h7M204.5 193v7M195 193.5h7M198.5 190v7M189 189.5h7M192.5 186v7M183 186.5h7M186.5 183v7M177 182.5h7M180.5 179v7M173 178.5h7M176.5 175v7M168 175.5h7M171.5 172v7M166 171.5h7M169.5 168v7M163 167.5h7M166.5 164v7M161 164.5h7M164.5 161v7M159 160.5h7M162.5 157v7M157 157.5h7M160.5 154v7M155 153.5h7M158.5 150v7M154 149.5h7M157.5 146v7M153 146.5h7M156.5 143v7M151 142.5h7M154.5 139v7M150 138.5h7M153.5 135v7M149 135.5h7M152.5 132v7M148 131.5h7M151.5 128v7M148 128.5h7M151.5 125v7M153 124.5h7M156.5 121v7M160 120.5h7M163.5 117v7M167 117.5h7M170.5 114v7M175 113.5h7M178.5 110v7M183 109.5h7M186.5 106v7M191 106.5h7M194.5 103v7M199 102.5h7M202.5 99v7M205 99.5h7M208.5 96v7M210 95.5h7M213.5 92v7M213 91.5h7M216.5 88v7M213 88.5h7M216.5 85v7M212 84.5h7M215.5 81v7M212 81.5h7M215.5 78v7M210 77.5h7M213.5 74v7M166 117.5h7M169.5 114v7M168 113.5h7M171.5 110v7M171 109.5h7M174.5 106v7M176 106.5h7M179.5 103v7M182 102.5h7M185.5 99v7M188 99.5h7M191.5 96v7M195 95.5h7M198.5 92v7M201 91.5h7M204.5 88v7M204 88.5h7M207.5 85v7M208 84.5h7M211.5 81v7M211 81.5h7M214.5 78v7M168 115.5h7M171.5 112v7M171 111.5h7M174.5 108v7M175 108.5h7M178.5 105v7M180 104.5h7M183.5 101v7M186 100.5h7M189.5 97v7M192 97.5h7M195.5 94v7M199 93.5h7M202.5 90v7M203 90.5h7M206.5 87v7M207 86.5h7M210.5 83v7M211 82.5h7M214.5 79v7M209 99.5h7M212.5 96v7M213 95.5h7M216.5 92v7M213 91.5h7M216.5 88v7M214 88.5h7M217.5 85v7M214 84.5h7M217.5 81v7M214 81.5h7M217.5 78v7M214 77.5h7M217.5 74v7M180 81.5h7M183.5 78v7M194 86.5h7M197.5 83v7M198 92.5h7M201.5 89v7M154 392.5h7M157.5 389v7M158 388.5h7M161.5 385v7M161 386.5h7M164.5 383v7M166 384.5h7M169.5 381v7M173 381.5h7M176.5 378v7M178 377.5h7M181.5 374v7"/>
<path stroke="#f00" stroke-width="1" d="M153.5 399.5 L152.5 395.5 L152.5 392.5 L151.5 388.5 L152.5 385.5 L154.5 381.5 L160.5 377.5 L166.5 374.5 L171.5 370.5 L181.5 367.5 L190.5 363.5 L200.5 359.5 L213.5 356.5 L218.5 352.5 L226.5 348.5 L239.5 345.5 L248.5 341.5 L264.5 338.5 L295.5 334.5 L332.5 330.5 L369.5 327.5 L400.5 323.5 L419.5 319.5 L420.5 316.5 L431.5 312.5 L437.5 309.5 L439.5 305.5 L460.5 301.5 L474.5 298.5 L471.5 294.5 L464.5 290.5 L458.5 287.5 L439.5 283.5 L423.5 280.5 L413.5 276.5 L408.5 272.5 L405.5 269.5 L381.5 265.5 L363.5 262.5 L341.5 258.5 L324.5 254.5 L306.5 251.5 L292.5 247.5 L283.5 243.5 L278.5 240.5 L273.5 236.5 L259.5 233.5 L248.5 229.5 L242.5 225.5 L228.5 222.5 L220.5 218.5 L214.5 214.5 L210.5 211.5 L205.5 207.5 L199.5 204.5 L194.5 200.5 L190.5 196.5 L187.5 193.5 L182.5 189.5 L178.5 186.5 L174.5 182.5 L169.5 178.5 L166.5 175.5 L164.5 171.5 L162.5 167.5 L160.5 164.5 L160.5 160.5 L160.5 157.5 L160.5 153.5 L160.5 149.5 L159.5 146.5 L161.5 142.5 L162.5 138.5 L165.5 135.5 L167.5 131.5 L173.5 128.5 L178.5 124.5 L195.5 120.5 L204.5 117.5 L208.5 113.5 L224.5 109.5 L241.5 106.5 L254.5 102.5 L257.5 99.5M153.5 395.5 L153.5 392.5 L154.5 388.5 L156.5 385.5 L159.5 381.5 L168.5 377.5 L176.5 374.5 L182.5 370.5 L196.5 367.5 L212.5 363.5 L225.5 359.5 L232.5 356.5 L242.5 352.5 L252.5 348.5 L265.5 345.5 L280.5 341.5 L296.5 338.5 L320.5 334.5 L354.5 330.5 L388.5 327.5 L418.5 323.5 L445.5 319.5 L461.5 316.5 L477.5 312.5 L483.5 309.5 L492.5 305.5 L495.5 301.5 L503.5 298.5 L515.5 294.5 L504.5 290.5 L501.5 287.5 L494.5 283.5 L497.5 280.5 L474.5 276.5 L470.5 272.5 L454.5 269.5 L433.5 265.5 L401.5 262.5 L382.5 258.5 L371.5 254.5 L356.5 251.5 L342.5 247.5 L327.5 243.5 L318.5 240.5 L304.5 236.5 L284.5 233.5 L271.5 229.5 L256.5 225.5 L240.5 222.5 L232.5 218.5 L227.5 214.5 L219.5 211.5 L211.5 207.5 L205.5 204.5 L201.5 200.5 L196.5 196.5 L191.5 193.5 L186.5 189.5 L181.5 186.5 L176.5 182.5 L172.5 178.5 L169.5 175.5 L167.5 171.5 L166.5 167.5 L165.5 164.5 L166.5 160.5 L165.5 157.5 L165.5 153.5 L165.5 149.5 L163.5 146.5 L165.5 142.5 L166.5 138.5 L167.5 135.5 L169.5 131.5 L172.5 128.5 L176.5 124.5 L178.5 120.5 L185.5 117.5 L188.5 113.5 L195.5 109.5 L207.5 106.5 L217.5 102.5 L220.5 99.5 L220.5 95.5 L224.5 91.5 L225.5 88.5M153.5 395.5 L153.5 392.5 L153.5 388.5 L154.5 385.5 L157.5 381.5 L165.5 377.5 L171.5 374.5 L176.5 370.5 L189.5 367.5 L200.5 363.5 L216.5 359.5 L229.5 356.5 L240.5 352.5 L246.5 348.5 L258.5 345.5 L270.5 341.5 L285.5 338.5 L312.5 334.5 L342.5 330.5 L378.5 327.5 L412.5 323.5 L430.5 319.5 L444.5 316.5 L459.5 312.5 L456.5 309.5 L460.5 305.5 L470.5 301.5 L485.5 298.5 L491.5 294.5 L491.5 290.5 L483.5 287.5 L460.5 283.5 L435.5 280.5 L436.5 276.5 L430.5 272.5 L405.5 269.5 L399.5 265.5 L383.5 262.5 L372.5 258.5 L351.5 254.5 L335.5 251.5 L316.5 247.5 L316.5 243.5 L301.5 240.5 L294.5 236.5 L279.5 233.5 L267.5 229.5 L252.5 225.5 L241.5 222.5 L233.5 218.5 L222.5 214.5 L216.5 211.5 L209.5 207.5 L203.5 204.5 L197.5 200.5 L192.5 196.5 L188.5 193.5 L183.5 189.5 L179.5 186.5 L174.5 182.5 L170.5 178.5 L166.5 175.5 L165.5 171.5 L164.5 167.5 L162.5 164.5 L162.5 160.5 L161.5 157.5 L161.5 153.5 L161.5 149.5 L160.5 146.5 L162.5 142.5 L163.5 138.5 L165.5 135.5 L168.5 131.5 L173.5 128.5 L178.5 124.5 L196.5 120.5 L205.5 117.5 L216.5 113.5 L229.5 109.5 L245.5 106.5 L262.5 102.5 L262.5 99.5M153.5 392.5 L153.5 388.5 L155.5 385.5 L158.5 381.5 L167.5 377.5 L172.5 374.5 L180.5 370.5 L193.5 367.5 L207.5 363.5 L224.5 359.5 L232.5 356.5 L241.5 352.5 L251.5 348.5 L264.5 345.5 L279.5 341.5 L290.5 338.5 L321.5 334.5 L358.5 330.5 L394.5 327.5 L428.5 323.5 L446.5 319.5 L465.5 316.5 L474.5 312.5 L467.5 309.5 L482.5 305.5 L480.5 301.5 L484.5 298.5 L492.5 294.5 L497.5 290.5 L487.5 287.5 L478.5 283.5 L477.5 280.5 L478.5 276.5 L462.5 272.5 L444.5 269.5 L414.5 265.5 L389.5 262.5 L375.5 258.5 L360.5 254.5 L347.5 251.5 L338.5 247.5 L319.5 243.5 L306.5 240.5 L297.5 236.5 L286.5 233.5 L276.5 229.5 L265.5 225.5 L252.5 222.5 L240.5 218.5 L228.5 214.5 L217.5 211.5 L211.5 207.5 L205.5 204.5 L200.5 200.5 L194.5 196.5 L189.5 193.5 L184.5 189.5 L179.5 186.5 L174.5 182.5 L170.5 178.5 L168.5 175.5 L166.5 171.5 L164.5 167.5 L164.5 164.5 L164.5 160.5 L162.5 157.5 L162.5 153.5 L163.5 149.5 L163.5 146.5 L164.5 142.5 L164.5 138.5 L164.5 135.5 L166.5 131.5 L167.5 128.5 L170.5 124.5 L173.5 120.5 L178.5 117.5 L183.5 113.5 L190.5 109.5 L197.5 106.5 L203.5 102.5 L208.5 99.5 L211.5 95.5 L212.5 91.5 L212.5 88.5 L212.5 84.5M152.5 392.5 L151.5 388.5 L152.5 385.5 L154.5 381.5 L159.5 377.5 L164.5 374.5 L168.5 370.5 L179.5 367.5 L190.5 363.5 L201.5 359.5 L208.5 356.5 L217.5 352.5 L222.5 348.5 L234.5 345.5 L240.5 341.5 L251.5 338.5 L283.5 334.5 L319.5 330.5 L365.5 327.5 L394.5 323.5 L399.5 319.5 L406.5 316.5 L407.5 312.5 L416.5 309.5 L416.5 305.5 L417.5 301.5 L438.5 298.5 L463.5 294.5 L466.5 290.5 L451.5 287.5 L431.5 283.5 L417.5 280.5 L402.5 276.5 L382.5 272.5 L372.5 269.5 L359.5 265.5 L338.5 262.5 L311.5 258.5 L286.5 254.5 L283.5 251.5 L271.5 247.5 L265.5 243.5 L260.5 240.5 L255.5 236.5 L247.5 233.5 L241.5 229.5 L231.5 225.5 L223.5 222.5 L214.5 218.5 L211.5 214.5 L206.5 211.5 L200.5 207.5 L195.5 204.5 L191.5 200.5 L188.5 196.5 L183.5 193.5 L179.5 189.5 L175.5 186.5 L172.5 182.5 L169.5 178.5 L165.5 175.5 L164.5 171.5 L162.5 167.5 L161.5 164.5 L159.5 160.5 L159.5 157.5 L159.5 153.5 L159.5 149.5 L157.5 146.5 L160.5 142.5 L162.5 138.5 L164.5 135.5 L167.5 131.5 L171.5 128.5 L176.5 124.5 L188.5 120.5 L195.5 117.5 L197.5 113.5 L212.5 109.5 L224.5 106.5 L238.5 102.5 L240.5 99.5 L249.5 95.5 L252.5 91.5M154.5 388.5 L157.5 385.5 L160.5 381.5 L171.5 377.5 L178.5 374.5 L186.5 370.5 L200.5 367.5 L219.5 363.5 L238.5 359.5 L247.5 356.5 L253.5 352.5 L263.5 348.5 L278.5 345.5 L292.5 341.5 L314.5 338.5 L340.5 334.5 L373.5 330.5 L403.5 327.5 L438.5 323.5 L476.5 319.5 L500.5 316.5 L517.5 312.5 L528.5 309.5 L536.5 305.5 L552.5 301.5 L552.5 298.5 L554.5 294.5 L545.5 290.5 L531.5 287.5 L516.5 283.5 L504.5 280.5 L481.5 276.5 L464.5 272.5 L454.5 269.5 L439.5 265.5 L418.5 262.5 L393.5 258.5 L378.5 254.5 L371.5 251.5 L360.5 247.5 L345.5 243.5 L326.5 240.5 L316.5 236.5 L300.5 233.5 L284.5 229.5 L271.5 225.5 L263.5 222.5 L250.5 218.5 L240.5 214.5 L228.5 211.5 L220.5 207.5 L213.5 204.5 L206.5 200.5 L201.5 196.5 L195.5 193.5 L189.5 189.5 L184.5 186.5 L178.5 182.5 L173.5 178.5 L171.5 175.5 L169.5 171.5 L167.5 167.5 L167.5 164.5 L167.5 160.5 L168.5 157.5 L169.5 153.5 L169.5 149.5 L167.5 146.5 L168.5 142.5 L168.5 138.5 L168.5 135.5 L170.5 131.5 L173.5 128.5 L176.5 124.5 L183.5 120.5 L190.5 117.5 L194.5 113.5 L205.5 109.5 L203.5 106.5 L220.5 102.5 L220.5 99.5 L234.5 95.5 L234.5 91.5 L231.5 88.5 L237.5 84.5 L232.5 81.5M150.5 388.5 L151.5 385.5 L153.5 381.5 L158.5 377.5 L162.5 374.5 L168.5 370.5 L178.5 367.5 L187.5 363.5 L195.5 359.5 L204.5 356.5 L213.5 352.5 L217.5 348.5 L223.5 345.5 L231.5 341.5 L244.5 338.5 L274.5 334.5 L316.5 330.5 L358.5 327.5 L387.5 323.5 L390.5 319.5 L395.5 316.5 L398.5 312.5 L396.5 309.5 L413.5 305.5 L417.5 301.5 L438.5 298.5 L450.5 294.5 L435.5 290.5 L419.5 287.5 L401.5 283.5 L374.5 280.5 L367.5 276.5 L356.5 272.5 L344.5 269.5 L332.5 265.5 L320.5 262.5 L303.5 258.5 L285.5 254.5 L276.5 251.5 L267.5 247.5 L260.5 243.5 L253.5 240.5 L246.5 236.5 L240.5 233.5 L233.5 229.5 L226.5 225.5 L219.5 222.5 L213.5 218.5 L208.5 214.5 L203.5 211.5 L198.5 207.5 L193.5 204.5 L189.5 200.5 L186.5 196.5 L183.5 193.5 L179.5 189.5 L175.5 186.5 L171.5 182.5 L168.5 178.5 L164.5 175.5 L162.5 171.5 L160.5 167.5 L159.5 164.5 L157.5 160.5 L156.5 157.5 L156.5 153.5 L155.5 149.5 L154.5 146.5 L156.5 142.5 L160.5 138.5 L163.5 135.5 L166.5 131.5 L172.5 128.5 L177.5 124.5 L190.5 120.5 L205.5 117.5 L211.5 113.5 L219.5 109.5 L237.5 106.5 L261.5 102.5 L259.5 99.5 L260.5 95.5M154.5 385.5 L157.5 381.5 L165.5 377.5 L174.5 374.5 L179.5 370.5 L192.5 367.5 L205.5 363.5 L221.5 359.5 L234.5 356.5 L240.5 352.5 L246.5 348.5 L252.5 345.5 L263.5 341.5 L284.5 338.5 L314.5 334.5 L345.5 330.5 L382.5 327.5 L415.5 323.5 L438.5 319.5 L449.5 316.5 L457.5 312.5 L455.5 309.5 L459.5 305.5 L482.5 301.5 L477.5 298.5 L487.5 294.5 L485.5 290.5 L476.5 287.5 L458.5 283.5 L443.5 280.5 L437.5 276.5 L429.5 272.5 L406.5 269.5 L392.5 265.5 L371.5 262.5 L354.5 258.5 L341.5 254.5 L334.5 251.5 L326.5 247.5 L311.5 243.5 L303.5 240.5 L295.5 236.5 L286.5 233.5 L277.5 229.5 L263.5 225.5 L250.5 222.5 L240.5 218.5 L227.5 214.5 L218.5 211.5 L210.5 207.5 L204.5 204.5 L198.5 200.5 L192.5 196.5 L188.5 193.5 L184.5 189.5 L180.5 186.5 L175.5 182.5 L170.5 178.5 L168.5 175.5 L166.5 171.5 L164.5 167.5 L164.5 164.5 L164.5 160.5 L164.5 157.5 L163.5 153.5 L162.5 149.5 L161.5 146.5 L161.5 142.5 L164.5 138.5 L166.5 135.5 L168.5 131.5 L172.5 128.5 L177.5 124.5 L187.5 120.5 L190.5 117.5 L202.5 113.5 L207.5 109.5 L222.5 106.5 L232.5 102.5 L224.5 99.5 L234.5 95.5 L244.5 91.5M153.5 385.5 L156.5 381.5 L164.5 377.5 L170.5 374.5 L176.5 370.5 L185.5 367.5 L198.5 363.5 L217.5 359.5 L227.5 356.5 L238.5 352.5 L245.5 348.5 L251.5 345.5 L267.5 341.5 L277.5 338.5 L305.5 334.5 L340.5 330.5 L381.5 327.5 L412.5 323.5 L431.5 319.5 L437.5 316.5 L436.5 312.5 L443.5 309.5 L446.5 305.5 L443.5 301.5 L448.5 298.5 L458.5 294.5 L443.5 290.5 L430.5 287.5 L407.5 283.5 L393.5 280.5 L395.5 276.5 L407.5 272.5 L386.5 269.5 L369.5 265.5 L360.5 262.5 L342.5 258.5 L324.5 254.5 L323.5 251.5 L308.5 247.5 L291.5 243.5 L276.5 240.5 L270.5 236.5 L263.5 233.5 L250.5 229.5 L240.5 225.5 L233.5 222.5 L226.5 218.5 L218.5 214.5 L212.5 211.5 L206.5 207.5 L199.5 204.5 L195.5 200.5 L191.5 196.5 L186.5 193.5 L181.5 189.5 L177.5 186.5 L173.5 182.5 L170.5 178.5 L166.5 175.5 L165.5 171.5 L163.5 167.5 L162.5 164.5 L162.5 160.5 L162.5 157.5 L162.5 153.5 L160.5 149.5 L160.5 146.5 L160.5 142.5 L159.5 138.5 L160.5 135.5 L162.5 131.5 L163.5 128.5 L166.5 124.5 L169.5 120.5 L174.5 117.5 L179.5 113.5 L186.5 109.5 L193.5 106.5 L199.5 102.5 L204.5 99.5 L207.5 95.5 L208.5 91.5 L208.5 88.5 L208.5 84.5 L208.5 81.5M160.5 381.5 L171.5 377.5 L180.5 374.5 L187.5 370.5 L202.5 367.5 L219.5 363.5 L235.5 359.5 L246.5 356.5 L253.5 352.5 L264.5 348.5 L283.5 345.5 L296.5 341.5 L317.5 338.5 L340.5 334.5 L367.5 330.5 L397.5 327.5 L437.5 323.5 L479.5 319.5 L499.5 316.5 L509.5 312.5 L528.5 309.5 L537.5 305.5 L552.5 301.5 L561.5 298.5 L564.5 294.5 L556.5 290.5 L541.5 287.5 L528.5 283.5 L502.5 280.5 L490.5 276.5 L470.5 272.5 L459.5 269.5 L434.5 265.5 L415.5 262.5 L402.5 258.5 L378.5 254.5 L362.5 251.5 L345.5 247.5 L336.5 243.5 L330.5 240.5 L318.5 236.5 L302.5 233.5 L292.5 229.5 L274.5 225.5 L265.5 222.5 L250.5 218.5 L233.5 214.5 L227.5 211.5 L220.5 207.5 L212.5 204.5 L206.5 200.5 L200.5 196.5 L194.5 193.5 L188.5 189.5 L182.5 186.5 L177.5 182.5 L172.5 178.5 L170.5 175.5 L169.5 171.5 L168.5 167.5 L167.5 164.5 L168.5 160.5 L167.5 157.5 L166.5 153.5 L167.5 149.5 L166.5 146.5 L166.5 142.5 L167.5 138.5 L167.5 135.5 L170.5 131.5 L172.5 128.5 L176.5 124.5 L186.5 120.5 L194.5 117.5 L198.5 113.5 L206.5 109.5 L215.5 106.5 L222.5 102.5 L237.5 99.5 L238.5 95.5 L235.5 91.5 L237.5 88.5 L245.5 84.5M160.5 381.5 L171.5 377.5 L178.5 374.5 L185.5 370.5 L202.5 367.5 L217.5 363.5 L237.5 359.5 L252.5 356.5 L263.5 352.5 L273.5 348.5 L287.5 345.5 L304.5 341.5 L325.5 338.5 L351.5 334.5 L379.5 330.5 L409.5 327.5 L445.5 323.5 L480.5 319.5 L492.5 316.5 L508.5 312.5 L523.5 309.5 L536.5 305.5 L535.5 301.5 L546.5 298.5 L553.5 294.5 L547.5 290.5 L533.5 287.5 L531.5 283.5 L512.5 280.5 L503.5 276.5 L504.5 272.5 L484.5 269.5 L458.5 265.5 L439.5 262.5 L419.5 258.5 L401.5 254.5 L387.5 251.5 L371.5 247.5 L347.5 243.5 L329.5 240.5 L312.5 236.5 L297.5 233.5 L283.5 229.5 L270.5 225.5 L260.5 222.5 L247.5 218.5 L237.5 214.5 L227.5 211.5 L218.5 207.5 L212.5 204.5 L207.5 200.5 L201.5 196.5 L195.5 193.5 L189.5 189.5 L183.5 186.5 L178.5 182.5 L173.5 178.5 L170.5 175.5 L169.5 171.5 L168.5 167.5 L168.5 164.5 L168.5 160.5 L168.5 157.5 L168.5 153.5 L168.5 149.5 L168.5 146.5 L168.5 142.5 L167.5 138.5 L168.5 135.5 L170.5 131.5 L174.5 128.5 L177.5 124.5 L190.5 120.5 L199.5 117.5 L208.5 113.5 L213.5 109.5 L225.5 106.5 L252.5 102.5 L244.5 99.5 L248.5 95.5 L254.5 91.5M160.5 377.5 L164.5 374.5 L171.5 370.5 L183.5 367.5 L195.5 363.5 L208.5 359.5 L215.5 356.5 L221.5 352.5 L223.5 348.5 L228.5 345.5 L243.5 341.5 L256.5 338.5 L296.5 334.5 L332.5 330.5 L370.5 327.5 L401.5 323.5 L421.5 319.5 L431.5 316.5 L427.5 312.5 L433.5 309.5 L447.5 305.5 L446.5 301.5 L449.5 298.5 L465.5 294.5 L458.5 290.5 L439.5 287.5 L419.5 283.5 L391.5 280.5 L389.5 276.5 L382.5 272.5 L382.5 269.5 L371.5 265.5 L344.5 262.5 L329.5 258.5 L317.5 254.5 L307.5 251.5 L300.5 247.5 L285.5 243.5 L271.5 240.5 L266.5 236.5 L254.5 233.5 L239.5 229.5 L235.5 225.5 L226.5 222.5 L218.5 218.5 L211.5 214.5 L204.5 211.5 L199.5 207.5 L194.5 204.5 L191.5 200.5 L186.5 196.5 L183.5 193.5 L179.5 189.5 L175.5 186.5 L172.5 182.5 L168.5 178.5 L165.5 175.5 L164.5 171.5 L161.5 167.5 L160.5 164.5 L159.5 160.5 L160.5 157.5 L159.5 153.5 L159.5 149.5 L158.5 146.5 L158.5 142.5 L158.5 138.5 L158.5 135.5 L158.5 131.5 L158.5 128.5 L158.5 124.5 L159.5 120.5 L161.5 117.5 L163.5 113.5 L166.5 109.5 L171.5 106.5 L176.5 102.5 L182.5 99.5 L187.5 95.5 L193.5 91.5 L197.5 88.5 L201.5 84.5M153.5 399.5 L153.5 395.5 L153.5 392.5 L153.5 388.5 L155.5 385.5 L158.5 381.5 L169.5 377.5 L175.5 374.5 L183.5 370.5 L198.5 367.5 L212.5 363.5 L227.5 359.5 L236.5 356.5 L248.5 352.5 L256.5 348.5 L270.5 345.5 L290.5 341.5 L314.5 338.5 L347.5 334.5 L373.5 330.5 L401.5 327.5 L439.5 323.5 L471.5 319.5 L494.5 316.5 L507.5 312.5 L528.5 309.5 L544.5 305.5 L556.5 301.5 L564.5 298.5 L566.5 294.5 L553.5 290.5 L542.5 287.5 L538.5 283.5 L519.5 280.5 L519.5 276.5 L500.5 272.5 L488.5 269.5 L460.5 265.5 L429.5 262.5 L421.5 258.5 L399.5 254.5 L374.5 251.5 L354.5 247.5 L337.5 243.5 L331.5 240.5 L316.5 236.5 L304.5 233.5 L286.5 229.5 L274.5 225.5 L262.5 222.5 L252.5 218.5 L238.5 214.5 L227.5 211.5 L218.5 207.5 L211.5 204.5 L205.5 200.5 L199.5 196.5 L191.5 193.5 L187.5 189.5 L182.5 186.5 L177.5 182.5 L171.5 178.5 L170.5 175.5 L168.5 171.5 L167.5 167.5 L167.5 164.5 L167.5 160.5 L168.5 157.5 L168.5 153.5 L167.5 149.5 L166.5 146.5 L166.5 142.5 L167.5 138.5 L168.5 135.5 L170.5 131.5 L174.5 128.5 L179.5 124.5 L197.5 120.5 L203.5 117.5 L212.5 113.5 L225.5 109.5 L237.5 106.5 L253.5 102.5 L256.5 99.5M152.5 395.5 L152.5 392.5 L152.5 388.5 L153.5 385.5 L155.5 381.5 L162.5 377.5 L169.5 374.5 L175.5 370.5 L188.5 367.5 L198.5 363.5 L214.5 359.5 L226.5 356.5 L235.5 352.5 L237.5 348.5 L244.5 345.5 L261.5 341.5 L284.5 338.5 L313.5 334.5 L350.5 330.5 L384.5 327.5 L414.5 323.5 L433.5 319.5 L446.5 316.5 L444.5 312.5 L458.5 309.5 L475.5 305.5 L471.5 301.5 L471.5 298.5 L484.5 294.5 L473.5 290.5 L449.5 287.5 L443.5 283.5 L427.5 280.5 L417.5 276.5 L426.5 272.5 L414.5 269.5 L391.5 265.5 L373.5 262.5 L349.5 258.5 L328.5 254.5 L321.5 251.5 L306.5 247.5 L294.5 243.5 L292.5 240.5 L284.5 236.5 L275.5 233.5 L265.5 229.5 L255.5 225.5 L247.5 222.5 L235.5 218.5 L228.5 214.5 L217.5 211.5 L209.5 207.5 L202.5 204.5 L197.5 200.5 L192.5 196.5 L189.5 193.5 L184.5 189.5 L179.5 186.5 L174.5 182.5 L170.5 178.5 L166.5 175.5 L165.5 171.5 L162.5 167.5 L161.5 164.5 L161.5 160.5 L160.5 157.5 L160.5 153.5 L159.5 149.5 L160.5 146.5 L159.5 142.5 L159.5 138.5 L158.5 135.5 L157.5 131.5 L156.5 128.5 L156.5 124.5 L156.5 120.5 L158.5 117.5 L160.5 113.5 L164.5 109.5 L168.5 106.5 L172.5 102.5 L178.5 99.5 L182.5 95.5 L188.5 91.5 L192.5 88.5 L196.5 84.5 L200.5 81.5M153.5 395.5 L153.5 392.5 L153.5 388.5 L155.5 385.5 L158.5 381.5 L168.5 377.5 L177.5 374.5 L183.5 370.5 L199.5 367.5 L214.5 363.5 L229.5 359.5 L240.5 356.5 L248.5 352.5 L254.5 348.5 L270.5 345.5 L279.5 341.5 L302.5 338.5 L333.5 334.5 L362.5 330.5 L394.5 327.5 L426.5 323.5 L454.5 319.5 L472.5 316.5 L485.5 312.5 L502.5 309.5 L507.5 305.5 L516.5 301.5 L512.5 298.5 L524.5 294.5 L516.5 290.5 L504.5 287.5 L500.5 283.5 L490.5 280.5 L456.5 276.5 L448.5 272.5 L427.5 269.5 L418.5 265.5 L411.5 262.5 L389.5 258.5 L371.5 254.5 L354.5 251.5 L341.5 247.5 L329.5 243.5 L319.5 240.5 L301.5 236.5 L293.5 233.5 L276.5 229.5 L265.5 225.5 L256.5 222.5 L244.5 218.5 L231.5 214.5 L221.5 211.5 L212.5 207.5 L206.5 204.5 L202.5 200.5 L196.5 196.5 L191.5 193.5 L186.5 189.5 L181.5 186.5 L176.5 182.5 L172.5 178.5 L169.5 175.5 L168.5 171.5 L167.5 167.5 L167.5 164.5 L165.5 160.5 L166.5 157.5 L166.5 153.5 L165.5 149.5 L164.5 146.5 L162.5 142.5 L162.5 138.5 L161.5 135.5 L161.5 131.5 L160.5 128.5 L161.5 124.5 L162.5 120.5 L164.5 117.5 L166.5 113.5 L168.5 109.5 L174.5 106.5 L180.5 102.5 L186.5 99.5 L192.5 95.5 L198.5 91.5 L202.5 88.5M153.5 392.5 L154.5 388.5 L156.5 385.5 L159.5 381.5 L169.5 377.5 L175.5 374.5 L181.5 370.5 L196.5 367.5 L209.5 363.5 L227.5 359.5 L237.5 356.5 L247.5 352.5 L261.5 348.5 L272.5 345.5 L286.5 341.5 L302.5 338.5 L334.5 334.5 L362.5 330.5 L393.5 327.5 L424.5 323.5 L445.5 319.5 L465.5 316.5 L494.5 312.5 L501.5 309.5 L520.5 305.5 L530.5 301.5 L530.5 298.5 L534.5 294.5 L524.5 290.5 L511.5 287.5 L516.5 283.5 L487.5 280.5 L482.5 276.5 L473.5 272.5 L455.5 269.5 L436.5 265.5 L418.5 262.5 L400.5 258.5 L385.5 254.5 L372.5 251.5 L345.5 247.5 L338.5 243.5 L331.5 240.5 L318.5 236.5 L305.5 233.5 L285.5 229.5 L272.5 225.5 L257.5 222.5 L243.5 218.5 L234.5 214.5 L223.5 211.5 L215.5 207.5 L207.5 204.5 L202.5 200.5 L197.5 196.5 L191.5 193.5 L186.5 189.5 L182.5 186.5 L176.5 182.5 L171.5 178.5 L169.5 175.5 L168.5 171.5 L167.5 167.5 L166.5 164.5 L166.5 160.5 L166.5 157.5 L167.5 153.5 L166.5 149.5 L166.5 146.5 L167.5 142.5 L167.5 138.5 L168.5 135.5 L170.5 131.5 L173.5 128.5 L175.5 124.5 L179.5 120.5 L183.5 117.5 L188.5 113.5 L195.5 109.5 L202.5 106.5 L210.5 102.5 L214.5 99.5 L220.5 95.5 L223.5 91.5 L224.5 88.5 L224.5 84.5 L226.5 81.5"/>
<path fill="#f00" d="M150 396h7v7h-7zM149 392h7v7h-7zM149 389h7v7h-7zM148 385h7v7h-7zM149 382h7v7h-7zM151 378h7v7h-7zM157 374h7v7h-7zM163 371h7v7h-7zM168 367h7v7h-7zM178 364h7v7h-7zM187 360h7v7h-7zM197 356h7v7h-7zM210 353h7v7h-7zM215 349h7v7h-7zM223 345h7v7h-7zM236 342h7v7h-7zM245 338h7v7h-7zM261 335h7v7h-7zM292 331h7v7h-7zM329 327h7v7h-7zM366 324h7v7h-7zM397 320h7v7h-7zM416 316h7v7h-7zM417 313h7v7h-7zM428 309h7v7h-7zM434 306h7v7h-7zM436 302h7v7h-7zM457 298h7v7h-7zM471 295h7v7h-7zM468 291h7v7h-7zM461 287h7v7h-7zM455 284h7v7h-7zM436 280h7v7h-7zM420 277h7v7h-7zM410 273h7v7h-7zM405 269h7v7h-7zM402 266h7v7h-7zM378 262h7v7h-7zM360 259h7v7h-7zM338 255h7v7h-7zM321 251h7v7h-7zM303 248h7v7h-7zM289 244h7v7h-7zM280 240h7v7h-7zM275 237h7v7h-7zM270 233h7v7h-7zM256 230h7v7h-7zM245 226h7v7h-7zM239 222h7v7h-7zM225 219h7v7h-7zM217 215h7v7h-7zM211 211h7v7h-7zM207 208h7v7h-7zM202 204h7v7h-7zM196 201h7v7h-7zM191 197h7v7h-7zM187 193h7v7h-7zM184 190h7v7h-7zM179 186h7v7h-7zM175 183h7v7h-7zM171 179h7v7h-7zM166 175h7v7h-7zM163 172h7v7h-7zM161 168h7v7h-7zM159 164h7v7h-7zM157 161h7v7h-7zM157 157h7v7h-7zM157 154h7v7h-7zM157 150h7v7h-7zM157 146h7v7h-7zM156 143h7v7h-7zM158 139h7v7h-7zM159 135h7v7h-7zM162 132h7v7h-7zM164 128h7v7h-7zM170 125h7v7h-7zM175 121h7v7h-7zM192 117h7v7h-7zM201 114h7v7h-7zM205 110h7v7h-7zM221 106h7v7h-7zM238 103h7v7h-7zM251 99h7v7h-7zM254 96h7v7h-7zM150 392h7v7h-7zM150 389h7v7h-7zM151 385h7v7h-7zM153 382h7v7h-7zM156 378h7v7h-7zM165 374h7v7h-7zM173 371h7v7h-7zM179 367h7v7h-7zM193 364h7v7h-7zM209 360h7v7h-7zM222 356h7v7h-7zM229 353h7v7h-7zM239 349h7v7h-7zM249 345h7v7h-7zM262 342h7v7h-7zM277 338h7v7h-7zM293 335h7v7h-7zM317 331h7v7h-7zM351 327h7v7h-7zM385 324h7v7h-7zM415 320h7v7h-7zM442 316h7v7h-7zM458 313h7v7h-7zM474 309h7v7h-7zM480 306h7v7h-7zM489 302h7v7h-7zM492 298h7v7h-7zM500 295h7v7h-7zM512 291h7v7h-7zM501 287h7v7h-7zM498 284h7v7h-7zM491 280h7v7h-7zM494 277h7v7h-7zM471 273h7v7h-7zM467 269h7v7h-7zM451 266h7v7h-7zM430 262h7v7h-7zM398 259h7v7h-7zM379 255h7v7h-7zM368 251h7v7h-7zM353 248h7v7h-7zM339 244h7v7h-7zM324 240h7v7h-7zM315 237h7v7h-7zM301 233h7v7h-7zM281 230h7v7h-7zM268 226h7v7h-7zM253 222h7v7h-7zM237 219h7v7h-7zM229 215h7v7h-7zM224 211h7v7h-7zM216 208h7v7h-7zM208 204h7v7h-7zM202 201h7v7h-7zM198 197h7v7h-7zM193 193h7v7h-7zM188 190h7v7h-7zM183 186h7v7h-7zM178 183h7v7h-7zM173 179h7v7h-7zM169 175h7v7h-7zM166 172h7v7h-7zM164 168h7v7h-7zM163 164h7v7h-7zM162 161h7v7h-7zM163 157h7v7h-7zM162 154h7v7h-7zM162 150h7v7h-7zM162 146h7v7h-7zM160 143h7v7h-7zM162 139h7v7h-7zM163 135h7v7h-7zM164 132h7v7h-7zM166 128h7v7h-7zM169 125h7v7h-7zM173 121h7v7h-7zM175 117h7v7h-7zM182 114h7v7h-7zM185 110h7v7h-7zM192 106h7v7h-7zM204 103h7v7h-7zM214 99h7v7h-7zM217 96h7v7h-7zM217 92h7v7h-7zM221 88h7v7h-7zM222 85h7v7h-7zM150 392h7v7h-7zM150 389h7v7h-7zM150 385h7v7h-7zM151 382h7v7h-7zM154 378h7v7h-7zM162 374h7v7h-7zM168 371h7v7h-7zM173 367h7v7h-7zM186 364h7v7h-7zM197 360h7v7h-7zM213 356h7v7h-7zM226 353h7v7h-7zM237 349h7v7h-7zM243 345h7v7h-7zM255 342h7v7h-7zM267 338h7v7h-7zM282 335h7v7h-7zM309 331h7v7h-7zM339 327h7v7h-7zM375 324h7v7h-7zM409 320h7v7h-7zM427 316h7v7h-7zM441 313h7v7h-7zM456 309h7v7h-7zM453 306h7v7h-7zM457 302h7v7h-7zM467 298h7v7h-7zM482 295h7v7h-7zM488 291h7v7h-7zM488 287h7v7h-7zM480 284h7v7h-7zM457 280h7v7h-7zM432 277h7v7h-7zM433 273h7v7h-7zM427 269h7v7h-7zM402 266h7v7h-7zM396 262h7v7h-7zM380 259h7v7h-7zM369 255h7v7h-7zM348 251h7v7h-7zM332 248h7v7h-7zM313 244h7v7h-7zM313 240h7v7h-7zM298 237h7v7h-7zM291 233h7v7h-7zM276 230h7v7h-7zM264 226h7v7h-7zM249 222h7v7h-7zM238 219h7v7h-7zM230 215h7v7h-7zM219 211h7v7h-7zM213 208h7v7h-7zM206 204h7v7h-7zM200 201h7v7h-7zM194 197h7v7h-7zM189 193h7v7h-7zM185 190h7v7h-7zM180 186h7v7h-7zM176 183h7v7h-7zM171 179h7v7h-7zM167 175h7v7h-7zM163 172h7v7h-7zM162 168h7v7h-7zM161 164h7v7h-7zM159 161h7v7h-7zM159 157h7v7h-7zM158 154h7v7h-7zM158 150h7v7h-7zM158 146h7v7h-7zM157 143h7v7h-7zM159 139h7v7h-7zM160 135h7v7h-7zM162 132h7v7h-7zM165 128h7v7h-7zM170 125h7v7h-7zM175 121h7v7h-7zM193 117h7v7h-7zM202 114h7v7h-7zM213 110h7v7h-7zM226 106h7v7h-7zM242 103h7v7h-7zM259 99h7v7h-7zM259 96h7v7h-7zM150 389h7v7h-7zM150 385h7v7h-7zM152 382h7v7h-7zM155 378h7v7h-7zM164 374h7v7h-7zM169 371h7v7h-7zM177 367h7v7h-7zM190 364h7v7h-7zM204 360h7v7h-7zM221 356h7v7h-7zM229 353h7v7h-7zM238 349h7v7h-7zM248 345h7v7h-7zM261 342h7v7h-7zM276 338h7v7h-7zM287 335h7v7h-7zM318 331h7v7h-7zM355 327h7v7h-7zM391 324h7v7h-7zM425 320h7v7h-7zM443 316h7v7h-7zM462 313h7v7h-7zM471 309h7v7h-7zM464 306h7v7h-7zM479 302h7v7h-7zM477 298h7v7h-7zM481 295h7v7h-7zM489 291h7v7h-7zM494 287h7v7h-7zM484 284h7v7h-7zM475 280h7v7h-7zM474 277h7v7h-7zM475 273h7v7h-7zM459 269h7v7h-7zM441 266h7v7h-7zM411 262h7v7h-7zM386 259h7v7h-7zM372 255h7v7h-7zM357 251h7v7h-7zM344 248h7v7h-7zM335 244h7v7h-7zM316 240h7v7h-7zM303 237h7v7h-7zM294 233h7v7h-7zM283 230h7v7h-7zM273 226h7v7h-7zM262 222h7v7h-7zM249 219h7v7h-7zM237 215h7v7h-7zM225 211h7v7h-7zM214 208h7v7h-7zM208 204h7v7h-7zM202 201h7v7h-7zM197 197h7v7h-7zM191 193h7v7h-7zM186 190h7v7h-7zM181 186h7v7h-7zM176 183h7v7h-7zM171 179h7v7h-7zM167 175h7v7h-7zM165 172h7v7h-7zM163 168h7v7h-7zM161 164h7v7h-7zM161 161h7v7h-7zM161 157h7v7h-7zM159 154h7v7h-7zM159 150h7v7h-7zM160 146h7v7h-7zM160 143h7v7h-7zM161 139h7v7h-7zM161 135h7v7h-7zM161 132h7v7h-7zM163 128h7v7h-7zM164 125h7v7h-7zM167 121h7v7h-7zM170 117h7v7h-7zM175 114h7v7h-7zM180 110h7v7h-7zM187 106h7v7h-7zM194 103h7v7h-7zM200 99h7v7h-7zM205 96h7v7h-7zM208 92h7v7h-7zM209 88h7v7h-7zM209 85h7v7h-7zM209 81h7v7h-7zM149 389h7v7h-7zM148 385h7v7h-7zM149 382h7v7h-7zM151 378h7v7h-7zM156 374h7v7h-7zM161 371h7v7h-7zM165 367h7v7h-7zM176 364h7v7h-7zM187 360h7v7h-7zM198 356h7v7h-7zM205 353h7v7h-7zM214 349h7v7h-7zM219 345h7v7h-7zM231 342h7v7h-7zM237 338h7v7h-7zM248 335h7v7h-7zM280 331h7v7h-7zM316 327h7v7h-7zM362 324h7v7h-7zM391 320h7v7h-7zM396 316h7v7h-7zM403 313h7v7h-7zM404 309h7v7h-7zM413 306h7v7h-7zM413 302h7v7h-7zM414 298h7v7h-7zM435 295h7v7h-7zM460 291h7v7h-7zM463 287h7v7h-7zM448 284h7v7h-7zM428 280h7v7h-7zM414 277h7v7h-7zM399 273h7v7h-7zM379 269h7v7h-7zM369 266h7v7h-7zM356 262h7v7h-7zM335 259h7v7h-7zM308 255h7v7h-7zM283 251h7v7h-7zM280 248h7v7h-7zM268 244h7v7h-7zM262 240h7v7h-7zM257 237h7v7h-7zM252 233h7v7h-7zM244 230h7v7h-7zM238 226h7v7h-7zM228 222h7v7h-7zM220 219h7v7h-7zM211 215h7v7h-7zM208 211h7v7h-7zM203 208h7v7h-7zM197 204h7v7h-7zM192 201h7v7h-7zM188 197h7v7h-7zM185 193h7v7h-7zM180 190h7v7h-7zM176 186h7v7h-7zM172 183h7v7h-7zM169 179h7v7h-7zM166 175h7v7h-7zM162 172h7v7h-7zM161 168h7v7h-7zM159 164h7v7h-7zM158 161h7v7h-7zM156 157h7v7h-7zM156 154h7v7h-7zM156 150h7v7h-7zM156 146h7v7h-7zM154 143h7v7h-7zM157 139h7v7h-7zM159 135h7v7h-7zM161 132h7v7h-7zM164 128h7v7h-7zM168 125h7v7h-7zM173 121h7v7h-7zM185 117h7v7h-7zM192 114h7v7h-7zM194 110h7v7h-7zM209 106h7v7h-7zM221 103h7v7h-7zM235 99h7v7h-7zM237 96h7v7h-7zM246 92h7v7h-7zM249 88h7v7h-7zM151 385h7v7h-7zM154 382h7v7h-7zM157 378h7v7h-7zM168 374h7v7h-7zM175 371h7v7h-7zM183 367h7v7h-7zM197 364h7v7h-7zM216 360h7v7h-7zM235 356h7v7h-7zM244 353h7v7h-7zM250 349h7v7h-7zM260 345h7v7h-7zM275 342h7v7h-7zM289 338h7v7h-7zM311 335h7v7h-7zM337 331h7v7h-7zM370 327h7v7h-7zM400 324h7v7h-7zM435 320h7v7h-7zM473 316h7v7h-7zM497 313h7v7h-7zM514 309h7v7h-7zM525 306h7v7h-7zM533 302h7v7h-7zM549 298h7v7h-7zM549 295h7v7h-7zM551 291h7v7h-7zM542 287h7v7h-7zM528 284h7v7h-7zM513 280h7v7h-7zM501 277h7v7h-7zM478 273h7v7h-7zM461 269h7v7h-7zM451 266h7v7h-7zM436 262h7v7h-7zM415 259h7v7h-7zM390 255h7v7h-7zM375 251h7v7h-7zM368 248h7v7h-7zM357 244h7v7h-7zM342 240h7v7h-7zM323 237h7v7h-7zM313 233h7v7h-7zM297 230h7v7h-7zM281 226h7v7h-7zM268 222h7v7h-7zM260 219h7v7h-7zM247 215h7v7h-7zM237 211h7v7h-7zM225 208h7v7h-7zM217 204h7v7h-7zM210 201h7v7h-7zM203 197h7v7h-7zM198 193h7v7h-7zM192 190h7v7h-7zM186 186h7v7h-7zM181 183h7v7h-7zM175 179h7v7h-7zM170 175h7v7h-7zM168 172h7v7h-7zM166 168h7v7h-7zM164 164h7v7h-7zM164 161h7v7h-7zM164 157h7v7h-7zM165 154h7v7h-7zM166 150h7v7h-7zM166 146h7v7h-7zM164 143h7v7h-7zM165 139h7v7h-7zM165 135h7v7h-7zM165 132h7v7h-7zM167 128h7v7h-7zM170 125h7v7h-7zM173 121h7v7h-7zM180 117h7v7h-7zM187 114h7v7h-7zM191 110h7v7h-7zM202 106h7v7h-7zM200 103h7v7h-7zM217 99h7v7h-7zM217 96h7v7h-7zM231 92h7v7h-7zM231 88h7v7h-7zM228 85h7v7h-7zM234 81h7v7h-7zM229 78h7v7h-7zM147 385h7v7h-7zM148 382h7v7h-7zM150 378h7v7h-7zM155 374h7v7h-7zM159 371h7v7h-7zM165 367h7v7h-7zM175 364h7v7h-7zM184 360h7v7h-7zM192 356h7v7h-7zM201 353h7v7h-7zM210 349h7v7h-7zM214 345h7v7h-7zM220 342h7v7h-7zM228 338h7v7h-7zM241 335h7v7h-7zM271 331h7v7h-7zM313 327h7v7h-7zM355 324h7v7h-7zM384 320h7v7h-7zM387 316h7v7h-7zM392 313h7v7h-7zM395 309h7v7h-7zM393 306h7v7h-7zM410 302h7v7h-7zM414 298h7v7h-7zM435 295h7v7h-7zM447 291h7v7h-7zM432 287h7v7h-7zM416 284h7v7h-7zM398 280h7v7h-7zM371 277h7v7h-7zM364 273h7v7h-7zM353 269h7v7h-7zM341 266h7v7h-7zM329 262h7v7h-7zM317 259h7v7h-7zM300 255h7v7h-7zM282 251h7v7h-7zM273 248h7v7h-7zM264 244h7v7h-7zM257 240h7v7h-7zM250 237h7v7h-7zM243 233h7v7h-7zM237 230h7v7h-7zM230 226h7v7h-7zM223 222h7v7h-7zM216 219h7v7h-7zM210 215h7v7h-7zM205 211h7v7h-7zM200 208h7v7h-7zM195 204h7v7h-7zM190 201h7v7h-7zM186 197h7v7h-7zM183 193h7v7h-7zM180 190h7v7h-7zM176 186h7v7h-7zM172 183h7v7h-7zM168 179h7v7h-7zM165 175h7v7h-7zM161 172h7v7h-7zM159 168h7v7h-7zM157 164h7v7h-7zM156 161h7v7h-7zM154 157h7v7h-7zM153 154h7v7h-7zM153 150h7v7h-7zM152 146h7v7h-7zM151 143h7v7h-7zM153 139h7v7h-7zM157 135h7v7h-7zM160 132h7v7h-7zM163 128h7v7h-7zM169 125h7v7h-7zM174 121h7v7h-7zM187 117h7v7h-7zM202 114h7v7h-7zM208 110h7v7h-7zM216 106h7v7h-7zM234 103h7v7h-7zM258 99h7v7h-7zM256 96h7v7h-7zM257 92h7v7h-7zM151 382h7v7h-7zM154 378h7v7h-7zM162 374h7v7h-7zM171 371h7v7h-7zM176 367h7v7h-7zM189 364h7v7h-7zM202 360h7v7h-7zM218 356h7v7h-7zM231 353h7v7h-7zM237 349h7v7h-7zM243 345h7v7h-7zM249 342h7v7h-7zM260 338h7v7h-7zM281 335h7v7h-7zM311 331h7v7h-7zM342 327h7v7h-7zM379 324h7v7h-7zM412 320h7v7h-7zM435 316h7v7h-7zM446 313h7v7h-7zM454 309h7v7h-7zM452 306h7v7h-7zM456 302h7v7h-7zM479 298h7v7h-7zM474 295h7v7h-7zM484 291h7v7h-7zM482 287h7v7h-7zM473 284h7v7h-7zM455 280h7v7h-7zM440 277h7v7h-7zM434 273h7v7h-7zM426 269h7v7h-7zM403 266h7v7h-7zM389 262h7v7h-7zM368 259h7v7h-7zM351 255h7v7h-7zM338 251h7v7h-7zM331 248h7v7h-7zM323 244h7v7h-7zM308 240h7v7h-7zM300 237h7v7h-7zM292 233h7v7h-7zM283 230h7v7h-7zM274 226h7v7h-7zM260 222h7v7h-7zM247 219h7v7h-7zM237 215h7v7h-7zM224 211h7v7h-7zM215 208h7v7h-7zM207 204h7v7h-7zM201 201h7v7h-7zM195 197h7v7h-7zM189 193h7v7h-7zM185 190h7v7h-7zM181 186h7v7h-7zM177 183h7v7h-7zM172 179h7v7h-7zM167 175h7v7h-7zM165 172h7v7h-7zM163 168h7v7h-7zM161 164h7v7h-7zM161 161h7v7h-7zM161 157h7v7h-7zM161 154h7v7h-7zM160 150h7v7h-7zM159 146h7v7h-7zM158 143h7v7h-7zM158 139h7v7h-7zM161 135h7v7h-7zM163 132h7v7h-7zM165 128h7v7h-7zM169 125h7v7h-7zM174 121h7v7h-7zM184 117h7v7h-7zM187 114h7v7h-7zM199 110h7v7h-7zM204 106h7v7h-7zM219 103h7v7h-7zM229 99h7v7h-7zM221 96h7v7h-7zM231 92h7v7h-7zM241 88h7v7h-7zM150 382h7v7h-7zM153 378h7v7h-7zM161 374h7v7h-7zM167 371h7v7h-7zM173 367h7v7h-7zM182 364h7v7h-7zM195 360h7v7h-7zM214 356h7v7h-7zM224 353h7v7h-7zM235 349h7v7h-7zM242 345h7v7h-7zM248 342h7v7h-7zM264 338h7v7h-7zM274 335h7v7h-7zM302 331h7v7h-7zM337 327h7v7h-7zM378 324h7v7h-7zM409 320h7v7h-7zM428 316h7v7h-7zM434 313h7v7h-7zM433 309h7v7h-7zM440 306h7v7h-7zM443 302h7v7h-7zM440 298h7v7h-7zM445 295h7v7h-7zM455 291h7v7h-7zM440 287h7v7h-7zM427 284h7v7h-7zM404 280h7v7h-7zM390 277h7v7h-7zM392 273h7v7h-7zM404 269h7v7h-7zM383 266h7v7h-7zM366 262h7v7h-7zM357 259h7v7h-7zM339 255h7v7h-7zM321 251h7v7h-7zM320 248h7v7h-7zM305 244h7v7h-7zM288 240h7v7h-7zM273 237h7v7h-7zM267 233h7v7h-7zM260 230h7v7h-7zM247 226h7v7h-7zM237 222h7v7h-7zM230 219h7v7h-7zM223 215h7v7h-7zM215 211h7v7h-7zM209 208h7v7h-7zM203 204h7v7h-7zM196 201h7v7h-7zM192 197h7v7h-7zM188 193h7v7h-7zM183 190h7v7h-7zM178 186h7v7h-7zM174 183h7v7h-7zM170 179h7v7h-7zM167 175h7v7h-7zM163 172h7v7h-7zM162 168h7v7h-7zM160 164h7v7h-7zM159 161h7v7h-7zM159 157h7v7h-7zM159 154h7v7h-7zM159 150h7v7h-7zM157 146h7v7h-7zM157 143h7v7h-7zM157 139h7v7h-7zM156 135h7v7h-7zM157 132h7v7h-7zM159 128h7v7h-7zM160 125h7v7h-7zM163 121h7v7h-7zM166 117h7v7h-7zM171 114h7v7h-7zM176 110h7v7h-7zM183 106h7v7h-7zM190 103h7v7h-7zM196 99h7v7h-7zM201 96h7v7h-7zM204 92h7v7h-7zM205 88h7v7h-7zM205 85h7v7h-7zM205 81h7v7h-7zM205 78h7v7h-7zM157 378h7v7h-7zM168 374h7v7h-7zM177 371h7v7h-7zM184 367h7v7h-7zM199 364h7v7h-7zM216 360h7v7h-7zM232 356h7v7h-7zM243 353h7v7h-7zM250 349h7v7h-7zM261 345h7v7h-7zM280 342h7v7h-7zM293 338h7v7h-7zM314 335h7v7h-7zM337 331h7v7h-7zM364 327h7v7h-7zM394 324h7v7h-7zM434 320h7v7h-7zM476 316h7v7h-7zM496 313h7v7h-7zM506 309h7v7h-7zM525 306h7v7h-7zM534 302h7v7h-7zM549 298h7v7h-7zM558 295h7v7h-7zM561 291h7v7h-7zM553 287h7v7h-7zM538 284h7v7h-7zM525 280h7v7h-7zM499 277h7v7h-7zM487 273h7v7h-7zM467 269h7v7h-7zM456 266h7v7h-7zM431 262h7v7h-7zM412 259h7v7h-7zM399 255h7v7h-7zM375 251h7v7h-7zM359 248h7v7h-7zM342 244h7v7h-7zM333 240h7v7h-7zM327 237h7v7h-7zM315 233h7v7h-7zM299 230h7v7h-7zM289 226h7v7h-7zM271 222h7v7h-7zM262 219h7v7h-7zM247 215h7v7h-7zM230 211h7v7h-7zM224 208h7v7h-7zM217 204h7v7h-7zM209 201h7v7h-7zM203 197h7v7h-7zM197 193h7v7h-7zM191 190h7v7h-7zM185 186h7v7h-7zM179 183h7v7h-7zM174 179h7v7h-7zM169 175h7v7h-7zM167 172h7v7h-7zM166 168h7v7h-7zM165 164h7v7h-7zM164 161h7v7h-7zM165 157h7v7h-7zM164 154h7v7h-7zM163 150h7v7h-7zM164 146h7v7h-7zM163 143h7v7h-7zM163 139h7v7h-7zM164 135h7v7h-7zM164 132h7v7h-7zM167 128h7v7h-7zM169 125h7v7h-7zM173 121h7v7h-7zM183 117h7v7h-7zM191 114h7v7h-7zM195 110h7v7h-7zM203 106h7v7h-7zM212 103h7v7h-7zM219 99h7v7h-7zM234 96h7v7h-7zM235 92h7v7h-7zM232 88h7v7h-7zM234 85h7v7h-7zM242 81h7v7h-7zM157 378h7v7h-7zM168 374h7v7h-7zM175 371h7v7h-7zM182 367h7v7h-7zM199 364h7v7h-7zM214 360h7v7h-7zM234 356h7v7h-7zM249 353h7v7h-7zM260 349h7v7h-7zM270 345h7v7h-7zM284 342h7v7h-7zM301 338h7v7h-7zM322 335h7v7h-7zM348 331h7v7h-7zM376 327h7v7h-7zM406 324h7v7h-7zM442 320h7v7h-7zM477 316h7v7h-7zM489 313h7v7h-7zM505 309h7v7h-7zM520 306h7v7h-7zM533 302h7v7h-7zM532 298h7v7h-7zM543 295h7v7h-7zM550 291h7v7h-7zM544 287h7v7h-7zM530 284h7v7h-7zM528 280h7v7h-7zM509 277h7v7h-7zM500 273h7v7h-7zM501 269h7v7h-7zM481 266h7v7h-7zM455 262h7v7h-7zM436 259h7v7h-7zM416 255h7v7h-7zM398 251h7v7h-7zM384 248h7v7h-7zM368 244h7v7h-7zM344 240h7v7h-7zM326 237h7v7h-7zM309 233h7v7h-7zM294 230h7v7h-7zM280 226h7v7h-7zM267 222h7v7h-7zM257 219h7v7h-7zM244 215h7v7h-7zM234 211h7v7h-7zM224 208h7v7h-7zM215 204h7v7h-7zM209 201h7v7h-7zM204 197h7v7h-7zM198 193h7v7h-7zM192 190h7v7h-7zM186 186h7v7h-7zM180 183h7v7h-7zM175 179h7v7h-7zM170 175h7v7h-7zM167 172h7v7h-7zM166 168h7v7h-7zM165 164h7v7h-7zM165 161h7v7h-7zM165 157h7v7h-7zM165 154h7v7h-7zM165 150h7v7h-7zM165 146h7v7h-7zM165 143h7v7h-7zM165 139h7v7h-7zM164 135h7v7h-7zM165 132h7v7h-7zM167 128h7v7h-7zM171 125h7v7h-7zM174 121h7v7h-7zM187 117h7v7h-7zM196 114h7v7h-7zM205 110h7v7h-7zM210 106h7v7h-7zM222 103h7v7h-7zM249 99h7v7h-7zM241 96h7v7h-7zM245 92h7v7h-7zM251 88h7v7h-7zM157 374h7v7h-7zM161 371h7v7h-7zM168 367h7v7h-7zM180 364h7v7h-7zM192 360h7v7h-7zM205 356h7v7h-7zM212 353h7v7h-7zM218 349h7v7h-7zM220 345h7v7h-7zM225 342h7v7h-7zM240 338h7v7h-7zM253 335h7v7h-7zM293 331h7v7h-7zM329 327h7v7h-7zM367 324h7v7h-7zM398 320h7v7h-7zM418 316h7v7h-7zM428 313h7v7h-7zM424 309h7v7h-7zM430 306h7v7h-7zM444 302h7v7h-7zM443 298h7v7h-7zM446 295h7v7h-7zM462 291h7v7h-7zM455 287h7v7h-7zM436 284h7v7h-7zM416 280h7v7h-7zM388 277h7v7h-7zM386 273h7v7h-7zM379 269h7v7h-7zM379 266h7v7h-7zM368 262h7v7h-7zM341 259h7v7h-7zM326 255h7v7h-7zM314 251h7v7h-7zM304 248h7v7h-7zM297 244h7v7h-7zM282 240h7v7h-7zM268 237h7v7h-7zM263 233h7v7h-7zM251 230h7v7h-7zM236 226h7v7h-7zM232 222h7v7h-7zM223 219h7v7h-7zM215 215h7v7h-7zM208 211h7v7h-7zM201 208h7v7h-7zM196 204h7v7h-7zM191 201h7v7h-7zM188 197h7v7h-7zM183 193h7v7h-7zM180 190h7v7h-7zM176 186h7v7h-7zM172 183h7v7h-7zM169 179h7v7h-7zM165 175h7v7h-7zM162 172h7v7h-7zM161 168h7v7h-7zM158 164h7v7h-7zM157 161h7v7h-7zM156 157h7v7h-7zM157 154h7v7h-7zM156 150h7v7h-7zM156 146h7v7h-7zM155 143h7v7h-7zM155 139h7v7h-7zM155 135h7v7h-7zM155 132h7v7h-7zM155 128h7v7h-7zM155 125h7v7h-7zM155 121h7v7h-7zM156 117h7v7h-7zM158 114h7v7h-7zM160 110h7v7h-7zM163 106h7v7h-7zM168 103h7v7h-7zM173 99h7v7h-7zM179 96h7v7h-7zM184 92h7v7h-7zM190 88h7v7h-7zM194 85h7v7h-7zM198 81h7v7h-7zM150 396h7v7h-7zM150 392h7v7h-7zM150 389h7v7h-7zM150 385h7v7h-7zM152 382h7v7h-7zM155 378h7v7h-7zM166 374h7v7h-7zM172 371h7v7h-7zM180 367h7v7h-7zM195 364h7v7h-7zM209 360h7v7h-7zM224 356h7v7h-7zM233 353h7v7h-7zM245 349h7v7h-7zM253 345h7v7h-7zM267 342h7v7h-7zM287 338h7v7h-7zM311 335h7v7h-7zM344 331h7v7h-7zM370 327h7v7h-7zM398 324h7v7h-7zM436 320h7v7h-7zM468 316h7v7h-7zM491 313h7v7h-7zM504 309h7v7h-7zM525 306h7v7h-7zM541 302h7v7h-7zM553 298h7v7h-7zM561 295h7v7h-7zM563 291h7v7h-7zM550 287h7v7h-7zM539 284h7v7h-7zM535 280h7v7h-7zM516 277h7v7h-7zM516 273h7v7h-7zM497 269h7v7h-7zM485 266h7v7h-7zM457 262h7v7h-7zM426 259h7v7h-7zM418 255h7v7h-7zM396 251h7v7h-7zM371 248h7v7h-7zM351 244h7v7h-7zM334 240h7v7h-7zM328 237h7v7h-7zM313 233h7v7h-7zM301 230h7v7h-7zM283 226h7v7h-7zM271 222h7v7h-7zM259 219h7v7h-7zM249 215h7v7h-7zM235 211h7v7h-7zM224 208h7v7h-7zM215 204h7v7h-7zM208 201h7v7h-7zM202 197h7v7h-7zM196 193h7v7h-7zM188 190h7v7h-7zM184 186h7v7h-7zM179 183h7v7h-7zM174 179h7v7h-7zM168 175h7v7h-7zM167 172h7v7h-7zM165 168h7v7h-7zM164 164h7v7h-7zM164 161h7v7h-7zM164 157h7v7h-7zM165 154h7v7h-7zM165 150h7v7h-7zM164 146h7v7h-7zM163 143h7v7h-7zM163 139h7v7h-7zM164 135h7v7h-7zM165 132h7v7h-7zM167 128h7v7h-7zM171 125h7v7h-7zM176 121h7v7h-7zM194 117h7v7h-7zM200 114h7v7h-7zM209 110h7v7h-7zM222 106h7v7h-7zM234 103h7v7h-7zM250 99h7v7h-7zM253 96h7v7h-7zM149 392h7v7h-7zM149 389h7v7h-7zM149 385h7v7h-7zM150 382h7v7h-7zM152 378h7v7h-7zM159 374h7v7h-7zM166 371h7v7h-7zM172 367h7v7h-7zM185 364h7v7h-7zM195 360h7v7h-7zM211 356h7v7h-7zM223 353h7v7h-7zM232 349h7v7h-7zM234 345h7v7h-7zM241 342h7v7h-7zM258 338h7v7h-7zM281 335h7v7h-7zM310 331h7v7h-7zM347 327h7v7h-7zM381 324h7v7h-7zM411 320h7v7h-7zM430 316h7v7h-7zM443 313h7v7h-7zM441 309h7v7h-7zM455 306h7v7h-7zM472 302h7v7h-7zM468 298h7v7h-7zM468 295h7v7h-7zM481 291h7v7h-7zM470 287h7v7h-7zM446 284h7v7h-7zM440 280h7v7h-7zM424 277h7v7h-7zM414 273h7v7h-7zM423 269h7v7h-7zM411 266h7v7h-7zM388 262h7v7h-7zM370 259h7v7h-7zM346 255h7v7h-7zM325 251h7v7h-7zM318 248h7v7h-7zM303 244h7v7h-7zM291 240h7v7h-7zM289 237h7v7h-7zM281 233h7v7h-7zM272 230h7v7h-7zM262 226h7v7h-7zM252 222h7v7h-7zM244 219h7v7h-7zM232 215h7v7h-7zM225 211h7v7h-7zM214 208h7v7h-7zM206 204h7v7h-7zM199 201h7v7h-7zM194 197h7v7h-7zM189 193h7v7h-7zM186 190h7v7h-7zM181 186h7v7h-7zM176 183h7v7h-7zM171 179h7v7h-7zM167 175h7v7h-7zM163 172h7v7h-7zM162 168h7v7h-7zM159 164h7v7h-7zM158 161h7v7h-7zM158 157h7v7h-7zM157 154h7v7h-7zM157 150h7v7h-7zM156 146h7v7h-7zM157 143h7v7h-7zM156 139h7v7h-7zM156 135h7v7h-7zM155 132h7v7h-7zM154 128h7v7h-7zM153 125h7v7h-7zM153 121h7v7h-7zM153 117h7v7h-7zM155 114h7v7h-7zM157 110h7v7h-7zM161 106h7v7h-7zM165 103h7v7h-7zM169 99h7v7h-7zM175 96h7v7h-7zM179 92h7v7h-7zM185 88h7v7h-7zM189 85h7v7h-7zM193 81h7v7h-7zM197 78h7v7h-7zM150 392h7v7h-7zM150 389h7v7h-7zM150 385h7v7h-7zM152 382h7v7h-7zM155 378h7v7h-7zM165 374h7v7h-7zM174 371h7v7h-7zM180 367h7v7h-7zM196 364h7v7h-7zM211 360h7v7h-7zM226 356h7v7h-7zM237 353h7v7h-7zM245 349h7v7h-7zM251 345h7v7h-7zM267 342h7v7h-7zM276 338h7v7h-7zM299 335h7v7h-7zM330 331h7v7h-7zM359 327h7v7h-7zM391 324h7v7h-7zM423 320h7v7h-7zM451 316h7v7h-7zM469 313h7v7h-7zM482 309h7v7h-7zM499 306h7v7h-7zM504 302h7v7h-7zM513 298h7v7h-7zM509 295h7v7h-7zM521 291h7v7h-7zM513 287h7v7h-7zM501 284h7v7h-7zM497 280h7v7h-7zM487 277h7v7h-7zM453 273h7v7h-7zM445 269h7v7h-7zM424 266h7v7h-7zM415 262h7v7h-7zM408 259h7v7h-7zM386 255h7v7h-7zM368 251h7v7h-7zM351 248h7v7h-7zM338 244h7v7h-7zM326 240h7v7h-7zM316 237h7v7h-7zM298 233h7v7h-7zM290 230h7v7h-7zM273 226h7v7h-7zM262 222h7v7h-7zM253 219h7v7h-7zM241 215h7v7h-7zM228 211h7v7h-7zM218 208h7v7h-7zM209 204h7v7h-7zM203 201h7v7h-7zM199 197h7v7h-7zM193 193h7v7h-7zM188 190h7v7h-7zM183 186h7v7h-7zM178 183h7v7h-7zM173 179h7v7h-7zM169 175h7v7h-7zM166 172h7v7h-7zM165 168h7v7h-7zM164 164h7v7h-7zM164 161h7v7h-7zM162 157h7v7h-7zM163 154h7v7h-7zM163 150h7v7h-7zM162 146h7v7h-7zM161 143h7v7h-7zM159 139h7v7h-7zM159 135h7v7h-7zM158 132h7v7h-7zM158 128h7v7h-7zM157 125h7v7h-7zM158 121h7v7h-7zM159 117h7v7h-7zM161 114h7v7h-7zM163 110h7v7h-7zM165 106h7v7h-7zM171 103h7v7h-7zM177 99h7v7h-7zM183 96h7v7h-7zM189 92h7v7h-7zM195 88h7v7h-7zM199 85h7v7h-7zM150 389h7v7h-7zM151 385h7v7h-7zM153 382h7v7h-7zM156 378h7v7h-7zM166 374h7v7h-7zM172 371h7v7h-7zM178 367h7v7h-7zM193 364h7v7h-7zM206 360h7v7h-7zM224 356h7v7h-7zM234 353h7v7h-7zM244 349h7v7h-7zM258 345h7v7h-7zM269 342h7v7h-7zM283 338h7v7h-7zM299 335h7v7h-7zM331 331h7v7h-7zM359 327h7v7h-7zM390 324h7v7h-7zM421 320h7v7h-7zM442 316h7v7h-7zM462 313h7v7h-7zM491 309h7v7h-7zM498 306h7v7h-7zM517 302h7v7h-7zM527 298h7v7h-7zM527 295h7v7h-7zM531 291h7v7h-7zM521 287h7v7h-7zM508 284h7v7h-7zM513 280h7v7h-7zM484 277h7v7h-7zM479 273h7v7h-7zM470 269h7v7h-7zM452 266h7v7h-7zM433 262h7v7h-7zM415 259h7v7h-7zM397 255h7v7h-7zM382 251h7v7h-7zM369 248h7v7h-7zM342 244h7v7h-7zM335 240h7v7h-7zM328 237h7v7h-7zM315 233h7v7h-7zM302 230h7v7h-7zM282 226h7v7h-7zM269 222h7v7h-7zM254 219h7v7h-7zM240 215h7v7h-7zM231 211h7v7h-7zM220 208h7v7h-7zM212 204h7v7h-7zM204 201h7v7h-7zM199 197h7v7h-7zM194 193h7v7h-7zM188 190h7v7h-7zM183 186h7v7h-7zM179 183h7v7h-7zM173 179h7v7h-7zM168 175h7v7h-7zM166 172h7v7h-7zM165 168h7v7h-7zM164 164h7v7h-7zM163 161h7v7h-7zM163 157h7v7h-7zM163 154h7v7h-7zM164 150h7v7h-7zM163 146h7v7h-7zM163 143h7v7h-7zM164 139h7v7h-7zM164 135h7v7h-7zM165 132h7v7h-7zM167 128h7v7h-7zM170 125h7v7h-7zM172 121h7v7h-7zM176 117h7v7h-7zM180 114h7v7h-7zM185 110h7v7h-7zM192 106h7v7h-7zM199 103h7v7h-7zM207 99h7v7h-7zM211 96h7v7h-7zM217 92h7v7h-7zM220 88h7v7h-7zM221 85h7v7h-7zM221 81h7v7h-7zM223 78h7v7h-7z"/>
<path stroke="#000" stroke-width="1" d="M84.5 57.5H609.5V419.5H84.5ZM85 419.5h4M609 419.5h-4M85 383.5h4M609 383.5h-4M85 347.5h4M609 347.5h-4M85 310.5h4M609 310.5h-4M85 274.5h4M609 274.5h-4M85 238.5h4M609 238.5h-4M85 202.5h4M609 202.5h-4M85 166.5h4M609 166.5h-4M85 129.5h4M609 129.5h-4M85 93.5h4M609 93.5h-4M85 57.5h4M609 57.5h-4M84.5 419v-4M84.5 58v4M150.5 419v-4M150.5 58v4M215.5 419v-4M215.5 58v4M281.5 419v-4M281.5 58v4M346.5 419v-4M346.5 58v4M412.5 419v-4M412.5 58v4M478.5 419v-4M478.5 58v4M543.5 419v-4M543.5 58v4M609.5 419v-4M609.5 58v4"/>
</g>
<g font-family="'Liberation Sans', sans-serif" fill="#000" style="opacity:0.999">
<text x="345" y="32.3" font-size="16" text-anchor="middle">Occultations from 2025-09-13</text>
<text x="344.4" y="470" font-size="16" text-anchor="middle">O3 VMR</text>
<text x="71" y="425.2" font-size="16" text-anchor="end">0</text>
<text x="71" y="389.0" font-size="16" text-anchor="end">10</text>
<text x="71" y="352.8" font-size="16" text-anchor="end">20</text>
<text x="71" y="316.6" font-size="16" text-anchor="end">30</text>
<text x="71" y="280.4" font-size="16" text-anchor="end">40</text>
<text x="71" y="244.2" font-size="16" text-anchor="end">50</text>
<text x="71" y="208.0" font-size="16" text-anchor="end">60</text>
<text x="71" y="171.8" font-size="16" text-anchor="end">70</text>
<text x="71" y="135.6" font-size="16" text-anchor="end">80</text>
<text x="71" y="99.4" font-size="16" text-anchor="end">90</text>
<text x="71" y="63.2" font-size="16" text-anchor="end">100</text>
<text transform="translate(73.6 452.7) rotate(-45)" font-size="10.4" text-anchor="start">-1e-06</text>
<text transform="translate(139.2 452.7) rotate(-45)" font-size="10.4" text-anchor="start">0e+00</text>
<text transform="translate(204.8 452.7) rotate(-45)" font-size="10.4" text-anchor="start">1e-06</text>
<text transform="translate(270.5 452.7) rotate(-45)" font-size="10.4" text-anchor="start">2e-06</text>
<text transform="translate(336.1 452.7) rotate(-45)" font-size="10.4" text-anchor="start">3e-06</text>
<text transform="translate(401.7 452.7) rotate(-45)" font-size="10.4" text-anchor="start">4e-06</text>
<text transform="translate(467.4 452.7) rotate(-45)" font-size="10.4" text-anchor="start">5e-06</text>
<text transform="translate(533.0 452.7) rotate(-45)" font-size="10.4" text-anchor="start">6e-06</text>
<text transform="translate(598.6 452.7) rotate(-45)" font-size="10.4" text-anchor="start">7e-06</text>
</g>
<text transform="translate(18.5 238.5) rotate(-90)" font-family="'Liberation Sans', sans-serif" font-size="16" text-anchor="middle" fill="#000">Altitude (km)</text>
</svg>
</body></html>
